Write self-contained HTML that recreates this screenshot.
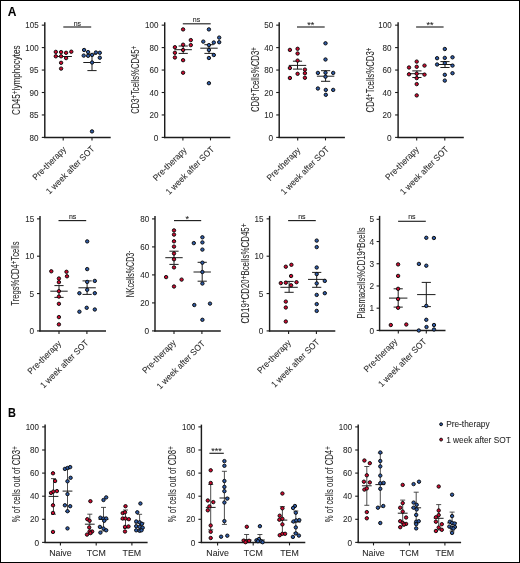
<!DOCTYPE html>
<html><head><meta charset="utf-8"><style>
html,body{margin:0;padding:0;background:#fff;}
svg{display:block;will-change:transform;font-family:"Liberation Sans", sans-serif;}
text{stroke:#2a2a2a;stroke-width:0.08px;}
</style></head><body>
<svg width="520" height="563" viewBox="0 0 520 563">
<rect x="0" y="0" width="520" height="563" fill="#fff"/>
<text x="7.70" y="15.80" font-size="12" text-anchor="start" fill="#000" font-weight="bold">A</text>
<line x1="44.80" y1="22.30" x2="44.80" y2="138.12" stroke="#1c1c1c" stroke-width="1.45" stroke-linecap="butt"/>
<line x1="44.07" y1="137.40" x2="110.70" y2="137.40" stroke="#1c1c1c" stroke-width="1.45" stroke-linecap="butt"/>
<line x1="41.80" y1="137.40" x2="44.80" y2="137.40" stroke="#1c1c1c" stroke-width="1.1" stroke-linecap="butt"/>
<text x="38.60" y="140.55" font-size="9.3" text-anchor="end" fill="#2a2a2a" textLength="9.00" lengthAdjust="spacingAndGlyphs">80</text>
<line x1="41.80" y1="114.95" x2="44.80" y2="114.95" stroke="#1c1c1c" stroke-width="1.1" stroke-linecap="butt"/>
<text x="38.60" y="118.10" font-size="9.3" text-anchor="end" fill="#2a2a2a" textLength="9.00" lengthAdjust="spacingAndGlyphs">85</text>
<line x1="41.80" y1="92.50" x2="44.80" y2="92.50" stroke="#1c1c1c" stroke-width="1.1" stroke-linecap="butt"/>
<text x="38.60" y="95.65" font-size="9.3" text-anchor="end" fill="#2a2a2a" textLength="9.00" lengthAdjust="spacingAndGlyphs">90</text>
<line x1="41.80" y1="70.05" x2="44.80" y2="70.05" stroke="#1c1c1c" stroke-width="1.1" stroke-linecap="butt"/>
<text x="38.60" y="73.20" font-size="9.3" text-anchor="end" fill="#2a2a2a" textLength="9.00" lengthAdjust="spacingAndGlyphs">95</text>
<line x1="41.80" y1="47.60" x2="44.80" y2="47.60" stroke="#1c1c1c" stroke-width="1.1" stroke-linecap="butt"/>
<text x="38.60" y="50.75" font-size="9.3" text-anchor="end" fill="#2a2a2a" textLength="13.30" lengthAdjust="spacingAndGlyphs">100</text>
<line x1="41.80" y1="25.15" x2="44.80" y2="25.15" stroke="#1c1c1c" stroke-width="1.1" stroke-linecap="butt"/>
<text x="38.60" y="28.30" font-size="9.3" text-anchor="end" fill="#2a2a2a" textLength="13.30" lengthAdjust="spacingAndGlyphs">105</text>
<line x1="63.20" y1="137.40" x2="63.20" y2="140.40" stroke="#1c1c1c" stroke-width="1.1" stroke-linecap="butt"/>
<line x1="92.00" y1="137.40" x2="92.00" y2="140.40" stroke="#1c1c1c" stroke-width="1.1" stroke-linecap="butt"/>
<line x1="63.30" y1="27.00" x2="91.20" y2="27.00" stroke="#222" stroke-width="1.15" stroke-linecap="butt"/>
<text x="77.40" y="25.60" font-size="7.0" text-anchor="middle" fill="#1a1a1a">ns</text>
<line x1="54.50" y1="56.50" x2="71.90" y2="56.50" stroke="#1c1c1c" stroke-width="1.0" stroke-linecap="butt"/>
<circle cx="55.80" cy="51.90" r="1.7" fill="#cc0a30" stroke="#0a0a0a" stroke-width="0.95"/>
<circle cx="61.10" cy="52.10" r="1.7" fill="#cc0a30" stroke="#0a0a0a" stroke-width="0.95"/>
<circle cx="66.10" cy="52.80" r="1.7" fill="#cc0a30" stroke="#0a0a0a" stroke-width="0.95"/>
<circle cx="71.30" cy="51.70" r="1.7" fill="#cc0a30" stroke="#0a0a0a" stroke-width="0.95"/>
<circle cx="55.80" cy="56.30" r="1.7" fill="#cc0a30" stroke="#0a0a0a" stroke-width="0.95"/>
<circle cx="61.10" cy="56.30" r="1.7" fill="#cc0a30" stroke="#0a0a0a" stroke-width="0.95"/>
<circle cx="66.10" cy="58.10" r="1.7" fill="#cc0a30" stroke="#0a0a0a" stroke-width="0.95"/>
<circle cx="61.10" cy="62.80" r="1.7" fill="#cc0a30" stroke="#0a0a0a" stroke-width="0.95"/>
<circle cx="61.10" cy="68.60" r="1.7" fill="#cc0a30" stroke="#0a0a0a" stroke-width="0.95"/>
<line x1="83.30" y1="62.50" x2="100.70" y2="62.50" stroke="#1c1c1c" stroke-width="1.0" stroke-linecap="butt"/>
<line x1="92.00" y1="54.20" x2="92.00" y2="70.60" stroke="#1c1c1c" stroke-width="1.0" stroke-linecap="butt"/>
<line x1="87.40" y1="54.20" x2="96.60" y2="54.20" stroke="#1c1c1c" stroke-width="1.0" stroke-linecap="butt"/>
<line x1="87.40" y1="70.60" x2="96.60" y2="70.60" stroke="#1c1c1c" stroke-width="1.0" stroke-linecap="butt"/>
<circle cx="84.10" cy="50.00" r="1.7" fill="#2f5ba6" stroke="#0a0a0a" stroke-width="0.95"/>
<circle cx="88.10" cy="52.10" r="1.7" fill="#2f5ba6" stroke="#0a0a0a" stroke-width="0.95"/>
<circle cx="95.90" cy="52.50" r="1.7" fill="#2f5ba6" stroke="#0a0a0a" stroke-width="0.95"/>
<circle cx="99.80" cy="52.80" r="1.7" fill="#2f5ba6" stroke="#0a0a0a" stroke-width="0.95"/>
<circle cx="83.70" cy="55.60" r="1.7" fill="#2f5ba6" stroke="#0a0a0a" stroke-width="0.95"/>
<circle cx="88.10" cy="55.80" r="1.7" fill="#2f5ba6" stroke="#0a0a0a" stroke-width="0.95"/>
<circle cx="92.10" cy="54.90" r="1.7" fill="#2f5ba6" stroke="#0a0a0a" stroke-width="0.95"/>
<circle cx="99.80" cy="57.70" r="1.7" fill="#2f5ba6" stroke="#0a0a0a" stroke-width="0.95"/>
<circle cx="92.10" cy="62.50" r="1.7" fill="#2f5ba6" stroke="#0a0a0a" stroke-width="0.95"/>
<circle cx="92.00" cy="131.40" r="1.7" fill="#2f5ba6" stroke="#0a0a0a" stroke-width="0.95"/>
<text x="19.90" y="80.15" font-size="10.2" text-anchor="middle" fill="#2a2a2a" textLength="69.50" lengthAdjust="spacingAndGlyphs" transform="rotate(-90 19.90 80.15)"><tspan dy="0">CD45</tspan><tspan font-size="80%" dy="-2.0">+</tspan><tspan dy="2.0">lymphocytes</tspan></text>
<text x="66.70" y="150.00" font-size="8.8" text-anchor="end" fill="#2a2a2a" textLength="43.50" lengthAdjust="spacingAndGlyphs" transform="rotate(-45 66.70 150.00)">Pre-therapy</text>
<text x="95.10" y="149.40" font-size="8.8" text-anchor="end" fill="#2a2a2a" textLength="64.30" lengthAdjust="spacingAndGlyphs" transform="rotate(-45 95.10 149.40)">1 week after SOT</text>
<line x1="164.70" y1="22.30" x2="164.70" y2="138.12" stroke="#1c1c1c" stroke-width="1.45" stroke-linecap="butt"/>
<line x1="163.97" y1="137.40" x2="230.30" y2="137.40" stroke="#1c1c1c" stroke-width="1.45" stroke-linecap="butt"/>
<line x1="161.70" y1="137.40" x2="164.70" y2="137.40" stroke="#1c1c1c" stroke-width="1.1" stroke-linecap="butt"/>
<text x="158.40" y="140.55" font-size="9.3" text-anchor="end" fill="#2a2a2a" textLength="4.60" lengthAdjust="spacingAndGlyphs">0</text>
<line x1="161.70" y1="114.95" x2="164.70" y2="114.95" stroke="#1c1c1c" stroke-width="1.1" stroke-linecap="butt"/>
<text x="158.40" y="118.10" font-size="9.3" text-anchor="end" fill="#2a2a2a" textLength="9.00" lengthAdjust="spacingAndGlyphs">20</text>
<line x1="161.70" y1="92.50" x2="164.70" y2="92.50" stroke="#1c1c1c" stroke-width="1.1" stroke-linecap="butt"/>
<text x="158.40" y="95.65" font-size="9.3" text-anchor="end" fill="#2a2a2a" textLength="9.00" lengthAdjust="spacingAndGlyphs">40</text>
<line x1="161.70" y1="70.05" x2="164.70" y2="70.05" stroke="#1c1c1c" stroke-width="1.1" stroke-linecap="butt"/>
<text x="158.40" y="73.20" font-size="9.3" text-anchor="end" fill="#2a2a2a" textLength="9.00" lengthAdjust="spacingAndGlyphs">60</text>
<line x1="161.70" y1="47.60" x2="164.70" y2="47.60" stroke="#1c1c1c" stroke-width="1.1" stroke-linecap="butt"/>
<text x="158.40" y="50.75" font-size="9.3" text-anchor="end" fill="#2a2a2a" textLength="9.00" lengthAdjust="spacingAndGlyphs">80</text>
<line x1="161.70" y1="25.15" x2="164.70" y2="25.15" stroke="#1c1c1c" stroke-width="1.1" stroke-linecap="butt"/>
<text x="158.40" y="28.30" font-size="9.3" text-anchor="end" fill="#2a2a2a" textLength="13.30" lengthAdjust="spacingAndGlyphs">100</text>
<line x1="182.90" y1="137.40" x2="182.90" y2="140.40" stroke="#1c1c1c" stroke-width="1.1" stroke-linecap="butt"/>
<line x1="210.50" y1="137.40" x2="210.50" y2="140.40" stroke="#1c1c1c" stroke-width="1.1" stroke-linecap="butt"/>
<line x1="182.80" y1="23.80" x2="210.70" y2="23.80" stroke="#222" stroke-width="1.15" stroke-linecap="butt"/>
<text x="196.50" y="22.30" font-size="7.0" text-anchor="middle" fill="#1a1a1a">ns</text>
<line x1="174.50" y1="49.70" x2="191.90" y2="49.70" stroke="#1c1c1c" stroke-width="1.0" stroke-linecap="butt"/>
<line x1="183.20" y1="46.00" x2="183.20" y2="53.40" stroke="#1c1c1c" stroke-width="1.0" stroke-linecap="butt"/>
<line x1="178.60" y1="46.00" x2="187.80" y2="46.00" stroke="#1c1c1c" stroke-width="1.0" stroke-linecap="butt"/>
<line x1="178.60" y1="53.40" x2="187.80" y2="53.40" stroke="#1c1c1c" stroke-width="1.0" stroke-linecap="butt"/>
<circle cx="183.10" cy="29.40" r="1.7" fill="#cc0a30" stroke="#0a0a0a" stroke-width="0.95"/>
<circle cx="190.80" cy="40.10" r="1.7" fill="#cc0a30" stroke="#0a0a0a" stroke-width="0.95"/>
<circle cx="183.10" cy="44.70" r="1.7" fill="#cc0a30" stroke="#0a0a0a" stroke-width="0.95"/>
<circle cx="190.80" cy="45.10" r="1.7" fill="#cc0a30" stroke="#0a0a0a" stroke-width="0.95"/>
<circle cx="174.90" cy="47.20" r="1.7" fill="#cc0a30" stroke="#0a0a0a" stroke-width="0.95"/>
<circle cx="183.10" cy="50.00" r="1.7" fill="#cc0a30" stroke="#0a0a0a" stroke-width="0.95"/>
<circle cx="174.90" cy="52.80" r="1.7" fill="#cc0a30" stroke="#0a0a0a" stroke-width="0.95"/>
<circle cx="174.90" cy="57.50" r="1.7" fill="#cc0a30" stroke="#0a0a0a" stroke-width="0.95"/>
<circle cx="183.10" cy="60.20" r="1.7" fill="#cc0a30" stroke="#0a0a0a" stroke-width="0.95"/>
<circle cx="183.10" cy="72.70" r="1.7" fill="#cc0a30" stroke="#0a0a0a" stroke-width="0.95"/>
<line x1="200.30" y1="48.20" x2="217.70" y2="48.20" stroke="#1c1c1c" stroke-width="1.0" stroke-linecap="butt"/>
<line x1="209.00" y1="44.70" x2="209.00" y2="53.40" stroke="#1c1c1c" stroke-width="1.0" stroke-linecap="butt"/>
<line x1="204.40" y1="44.70" x2="213.60" y2="44.70" stroke="#1c1c1c" stroke-width="1.0" stroke-linecap="butt"/>
<line x1="204.40" y1="53.40" x2="213.60" y2="53.40" stroke="#1c1c1c" stroke-width="1.0" stroke-linecap="butt"/>
<circle cx="208.90" cy="29.40" r="1.7" fill="#2f5ba6" stroke="#0a0a0a" stroke-width="0.95"/>
<circle cx="219.20" cy="37.60" r="1.7" fill="#2f5ba6" stroke="#0a0a0a" stroke-width="0.95"/>
<circle cx="203.30" cy="41.60" r="1.7" fill="#2f5ba6" stroke="#0a0a0a" stroke-width="0.95"/>
<circle cx="213.80" cy="42.50" r="1.7" fill="#2f5ba6" stroke="#0a0a0a" stroke-width="0.95"/>
<circle cx="219.20" cy="42.20" r="1.7" fill="#2f5ba6" stroke="#0a0a0a" stroke-width="0.95"/>
<circle cx="208.90" cy="45.10" r="1.7" fill="#2f5ba6" stroke="#0a0a0a" stroke-width="0.95"/>
<circle cx="208.90" cy="50.00" r="1.7" fill="#2f5ba6" stroke="#0a0a0a" stroke-width="0.95"/>
<circle cx="213.80" cy="55.00" r="1.7" fill="#2f5ba6" stroke="#0a0a0a" stroke-width="0.95"/>
<circle cx="208.90" cy="58.00" r="1.7" fill="#2f5ba6" stroke="#0a0a0a" stroke-width="0.95"/>
<circle cx="208.90" cy="83.20" r="1.7" fill="#2f5ba6" stroke="#0a0a0a" stroke-width="0.95"/>
<text x="139.00" y="79.90" font-size="10.2" text-anchor="middle" fill="#2a2a2a" textLength="67.80" lengthAdjust="spacingAndGlyphs" transform="rotate(-90 139.00 79.90)"><tspan dy="0">CD3</tspan><tspan font-size="80%" dy="-2.0">+</tspan><tspan dy="2.0">Tcells%CD45</tspan><tspan font-size="80%" dy="-2.0">+</tspan></text>
<text x="187.20" y="150.70" font-size="8.8" text-anchor="end" fill="#2a2a2a" textLength="43.50" lengthAdjust="spacingAndGlyphs" transform="rotate(-45 187.20 150.70)">Pre-therapy</text>
<text x="214.80" y="149.90" font-size="8.8" text-anchor="end" fill="#2a2a2a" textLength="64.30" lengthAdjust="spacingAndGlyphs" transform="rotate(-45 214.80 149.90)">1 week after SOT</text>
<line x1="279.20" y1="22.30" x2="279.20" y2="138.12" stroke="#1c1c1c" stroke-width="1.45" stroke-linecap="butt"/>
<line x1="278.47" y1="137.40" x2="344.90" y2="137.40" stroke="#1c1c1c" stroke-width="1.45" stroke-linecap="butt"/>
<line x1="276.20" y1="137.40" x2="279.20" y2="137.40" stroke="#1c1c1c" stroke-width="1.1" stroke-linecap="butt"/>
<text x="273.20" y="140.55" font-size="9.3" text-anchor="end" fill="#2a2a2a" textLength="4.60" lengthAdjust="spacingAndGlyphs">0</text>
<line x1="276.20" y1="114.95" x2="279.20" y2="114.95" stroke="#1c1c1c" stroke-width="1.1" stroke-linecap="butt"/>
<text x="273.20" y="118.10" font-size="9.3" text-anchor="end" fill="#2a2a2a" textLength="9.00" lengthAdjust="spacingAndGlyphs">10</text>
<line x1="276.20" y1="92.50" x2="279.20" y2="92.50" stroke="#1c1c1c" stroke-width="1.1" stroke-linecap="butt"/>
<text x="273.20" y="95.65" font-size="9.3" text-anchor="end" fill="#2a2a2a" textLength="9.00" lengthAdjust="spacingAndGlyphs">20</text>
<line x1="276.20" y1="70.05" x2="279.20" y2="70.05" stroke="#1c1c1c" stroke-width="1.1" stroke-linecap="butt"/>
<text x="273.20" y="73.20" font-size="9.3" text-anchor="end" fill="#2a2a2a" textLength="9.00" lengthAdjust="spacingAndGlyphs">80</text>
<line x1="276.20" y1="47.60" x2="279.20" y2="47.60" stroke="#1c1c1c" stroke-width="1.1" stroke-linecap="butt"/>
<text x="273.20" y="50.75" font-size="9.3" text-anchor="end" fill="#2a2a2a" textLength="9.00" lengthAdjust="spacingAndGlyphs">40</text>
<line x1="276.20" y1="25.15" x2="279.20" y2="25.15" stroke="#1c1c1c" stroke-width="1.1" stroke-linecap="butt"/>
<text x="273.20" y="28.30" font-size="9.3" text-anchor="end" fill="#2a2a2a" textLength="9.00" lengthAdjust="spacingAndGlyphs">50</text>
<line x1="297.70" y1="137.40" x2="297.70" y2="140.40" stroke="#1c1c1c" stroke-width="1.1" stroke-linecap="butt"/>
<line x1="325.50" y1="137.40" x2="325.50" y2="140.40" stroke="#1c1c1c" stroke-width="1.1" stroke-linecap="butt"/>
<line x1="297.00" y1="27.00" x2="324.70" y2="27.00" stroke="#222" stroke-width="1.15" stroke-linecap="butt"/>
<text x="310.80" y="28.42" font-size="9.0" text-anchor="middle" fill="#1a1a1a">**</text>
<line x1="288.80" y1="65.40" x2="306.20" y2="65.40" stroke="#1c1c1c" stroke-width="1.0" stroke-linecap="butt"/>
<line x1="297.50" y1="61.20" x2="297.50" y2="69.10" stroke="#1c1c1c" stroke-width="1.0" stroke-linecap="butt"/>
<line x1="292.90" y1="61.20" x2="302.10" y2="61.20" stroke="#1c1c1c" stroke-width="1.0" stroke-linecap="butt"/>
<line x1="292.90" y1="69.10" x2="302.10" y2="69.10" stroke="#1c1c1c" stroke-width="1.0" stroke-linecap="butt"/>
<circle cx="289.90" cy="49.90" r="1.7" fill="#cc0a30" stroke="#0a0a0a" stroke-width="0.95"/>
<circle cx="297.60" cy="48.80" r="1.7" fill="#cc0a30" stroke="#0a0a0a" stroke-width="0.95"/>
<circle cx="297.60" cy="53.50" r="1.7" fill="#cc0a30" stroke="#0a0a0a" stroke-width="0.95"/>
<circle cx="297.60" cy="60.60" r="1.7" fill="#cc0a30" stroke="#0a0a0a" stroke-width="0.95"/>
<circle cx="289.90" cy="68.00" r="1.7" fill="#cc0a30" stroke="#0a0a0a" stroke-width="0.95"/>
<circle cx="304.90" cy="69.60" r="1.7" fill="#cc0a30" stroke="#0a0a0a" stroke-width="0.95"/>
<circle cx="304.90" cy="73.20" r="1.7" fill="#cc0a30" stroke="#0a0a0a" stroke-width="0.95"/>
<circle cx="297.60" cy="73.80" r="1.7" fill="#cc0a30" stroke="#0a0a0a" stroke-width="0.95"/>
<circle cx="289.90" cy="78.00" r="1.7" fill="#cc0a30" stroke="#0a0a0a" stroke-width="0.95"/>
<circle cx="304.90" cy="77.80" r="1.7" fill="#cc0a30" stroke="#0a0a0a" stroke-width="0.95"/>
<line x1="316.90" y1="76.20" x2="334.30" y2="76.20" stroke="#1c1c1c" stroke-width="1.0" stroke-linecap="butt"/>
<line x1="325.60" y1="70.70" x2="325.60" y2="81.30" stroke="#1c1c1c" stroke-width="1.0" stroke-linecap="butt"/>
<line x1="321.00" y1="70.70" x2="330.20" y2="70.70" stroke="#1c1c1c" stroke-width="1.0" stroke-linecap="butt"/>
<line x1="321.00" y1="81.30" x2="330.20" y2="81.30" stroke="#1c1c1c" stroke-width="1.0" stroke-linecap="butt"/>
<circle cx="325.50" cy="43.30" r="1.7" fill="#2f5ba6" stroke="#0a0a0a" stroke-width="0.95"/>
<circle cx="325.50" cy="59.50" r="1.7" fill="#2f5ba6" stroke="#0a0a0a" stroke-width="0.95"/>
<circle cx="317.90" cy="72.90" r="1.7" fill="#2f5ba6" stroke="#0a0a0a" stroke-width="0.95"/>
<circle cx="325.50" cy="72.70" r="1.7" fill="#2f5ba6" stroke="#0a0a0a" stroke-width="0.95"/>
<circle cx="333.20" cy="72.90" r="1.7" fill="#2f5ba6" stroke="#0a0a0a" stroke-width="0.95"/>
<circle cx="325.50" cy="76.70" r="1.7" fill="#2f5ba6" stroke="#0a0a0a" stroke-width="0.95"/>
<circle cx="317.90" cy="88.50" r="1.7" fill="#2f5ba6" stroke="#0a0a0a" stroke-width="0.95"/>
<circle cx="325.80" cy="89.90" r="1.7" fill="#2f5ba6" stroke="#0a0a0a" stroke-width="0.95"/>
<circle cx="333.20" cy="89.90" r="1.7" fill="#2f5ba6" stroke="#0a0a0a" stroke-width="0.95"/>
<circle cx="325.80" cy="94.80" r="1.7" fill="#2f5ba6" stroke="#0a0a0a" stroke-width="0.95"/>
<text x="258.90" y="79.60" font-size="10.2" text-anchor="middle" fill="#2a2a2a" textLength="65.00" lengthAdjust="spacingAndGlyphs" transform="rotate(-90 258.90 79.60)"><tspan dy="0">CD8</tspan><tspan font-size="80%" dy="-2.0">+</tspan><tspan dy="2.0">Tcells%CD3</tspan><tspan font-size="80%" dy="-2.0">+</tspan></text>
<text x="300.90" y="150.70" font-size="8.8" text-anchor="end" fill="#2a2a2a" textLength="43.50" lengthAdjust="spacingAndGlyphs" transform="rotate(-45 300.90 150.70)">Pre-therapy</text>
<text x="329.80" y="149.90" font-size="8.8" text-anchor="end" fill="#2a2a2a" textLength="64.30" lengthAdjust="spacingAndGlyphs" transform="rotate(-45 329.80 149.90)">1 week after SOT</text>
<line x1="398.10" y1="22.30" x2="398.10" y2="138.12" stroke="#1c1c1c" stroke-width="1.45" stroke-linecap="butt"/>
<line x1="397.38" y1="137.40" x2="463.80" y2="137.40" stroke="#1c1c1c" stroke-width="1.45" stroke-linecap="butt"/>
<line x1="395.10" y1="137.40" x2="398.10" y2="137.40" stroke="#1c1c1c" stroke-width="1.1" stroke-linecap="butt"/>
<text x="391.60" y="140.55" font-size="9.3" text-anchor="end" fill="#2a2a2a" textLength="4.60" lengthAdjust="spacingAndGlyphs">0</text>
<line x1="395.10" y1="114.95" x2="398.10" y2="114.95" stroke="#1c1c1c" stroke-width="1.1" stroke-linecap="butt"/>
<text x="391.60" y="118.10" font-size="9.3" text-anchor="end" fill="#2a2a2a" textLength="9.00" lengthAdjust="spacingAndGlyphs">20</text>
<line x1="395.10" y1="92.50" x2="398.10" y2="92.50" stroke="#1c1c1c" stroke-width="1.1" stroke-linecap="butt"/>
<text x="391.60" y="95.65" font-size="9.3" text-anchor="end" fill="#2a2a2a" textLength="9.00" lengthAdjust="spacingAndGlyphs">40</text>
<line x1="395.10" y1="70.05" x2="398.10" y2="70.05" stroke="#1c1c1c" stroke-width="1.1" stroke-linecap="butt"/>
<text x="391.60" y="73.20" font-size="9.3" text-anchor="end" fill="#2a2a2a" textLength="9.00" lengthAdjust="spacingAndGlyphs">60</text>
<line x1="395.10" y1="47.60" x2="398.10" y2="47.60" stroke="#1c1c1c" stroke-width="1.1" stroke-linecap="butt"/>
<text x="391.60" y="50.75" font-size="9.3" text-anchor="end" fill="#2a2a2a" textLength="9.00" lengthAdjust="spacingAndGlyphs">80</text>
<line x1="395.10" y1="25.15" x2="398.10" y2="25.15" stroke="#1c1c1c" stroke-width="1.1" stroke-linecap="butt"/>
<text x="391.60" y="28.30" font-size="9.3" text-anchor="end" fill="#2a2a2a" textLength="13.30" lengthAdjust="spacingAndGlyphs">100</text>
<line x1="416.70" y1="137.40" x2="416.70" y2="140.40" stroke="#1c1c1c" stroke-width="1.1" stroke-linecap="butt"/>
<line x1="444.80" y1="137.40" x2="444.80" y2="140.40" stroke="#1c1c1c" stroke-width="1.1" stroke-linecap="butt"/>
<line x1="416.10" y1="27.00" x2="443.60" y2="27.00" stroke="#222" stroke-width="1.15" stroke-linecap="butt"/>
<text x="429.90" y="28.42" font-size="9.0" text-anchor="middle" fill="#1a1a1a">**</text>
<line x1="408.20" y1="73.70" x2="425.60" y2="73.70" stroke="#1c1c1c" stroke-width="1.0" stroke-linecap="butt"/>
<line x1="416.90" y1="70.90" x2="416.90" y2="77.50" stroke="#1c1c1c" stroke-width="1.0" stroke-linecap="butt"/>
<line x1="412.30" y1="70.90" x2="421.50" y2="70.90" stroke="#1c1c1c" stroke-width="1.0" stroke-linecap="butt"/>
<line x1="412.30" y1="77.50" x2="421.50" y2="77.50" stroke="#1c1c1c" stroke-width="1.0" stroke-linecap="butt"/>
<circle cx="416.70" cy="61.60" r="1.7" fill="#cc0a30" stroke="#0a0a0a" stroke-width="0.95"/>
<circle cx="409.00" cy="67.50" r="1.7" fill="#cc0a30" stroke="#0a0a0a" stroke-width="0.95"/>
<circle cx="416.70" cy="66.80" r="1.7" fill="#cc0a30" stroke="#0a0a0a" stroke-width="0.95"/>
<circle cx="424.50" cy="65.60" r="1.7" fill="#cc0a30" stroke="#0a0a0a" stroke-width="0.95"/>
<circle cx="409.00" cy="74.30" r="1.7" fill="#cc0a30" stroke="#0a0a0a" stroke-width="0.95"/>
<circle cx="416.70" cy="73.70" r="1.7" fill="#cc0a30" stroke="#0a0a0a" stroke-width="0.95"/>
<circle cx="424.50" cy="74.60" r="1.7" fill="#cc0a30" stroke="#0a0a0a" stroke-width="0.95"/>
<circle cx="416.70" cy="78.10" r="1.7" fill="#cc0a30" stroke="#0a0a0a" stroke-width="0.95"/>
<circle cx="416.70" cy="84.10" r="1.7" fill="#cc0a30" stroke="#0a0a0a" stroke-width="0.95"/>
<circle cx="416.70" cy="95.40" r="1.7" fill="#cc0a30" stroke="#0a0a0a" stroke-width="0.95"/>
<line x1="436.30" y1="64.50" x2="453.70" y2="64.50" stroke="#1c1c1c" stroke-width="1.0" stroke-linecap="butt"/>
<line x1="445.00" y1="61.60" x2="445.00" y2="67.50" stroke="#1c1c1c" stroke-width="1.0" stroke-linecap="butt"/>
<line x1="440.40" y1="61.60" x2="449.60" y2="61.60" stroke="#1c1c1c" stroke-width="1.0" stroke-linecap="butt"/>
<line x1="440.40" y1="67.50" x2="449.60" y2="67.50" stroke="#1c1c1c" stroke-width="1.0" stroke-linecap="butt"/>
<circle cx="444.80" cy="49.00" r="1.7" fill="#2f5ba6" stroke="#0a0a0a" stroke-width="0.95"/>
<circle cx="437.10" cy="58.20" r="1.7" fill="#2f5ba6" stroke="#0a0a0a" stroke-width="0.95"/>
<circle cx="444.80" cy="57.90" r="1.7" fill="#2f5ba6" stroke="#0a0a0a" stroke-width="0.95"/>
<circle cx="452.50" cy="57.30" r="1.7" fill="#2f5ba6" stroke="#0a0a0a" stroke-width="0.95"/>
<circle cx="437.10" cy="64.50" r="1.7" fill="#2f5ba6" stroke="#0a0a0a" stroke-width="0.95"/>
<circle cx="444.80" cy="63.10" r="1.7" fill="#2f5ba6" stroke="#0a0a0a" stroke-width="0.95"/>
<circle cx="452.50" cy="65.60" r="1.7" fill="#2f5ba6" stroke="#0a0a0a" stroke-width="0.95"/>
<circle cx="452.50" cy="73.20" r="1.7" fill="#2f5ba6" stroke="#0a0a0a" stroke-width="0.95"/>
<circle cx="444.80" cy="74.80" r="1.7" fill="#2f5ba6" stroke="#0a0a0a" stroke-width="0.95"/>
<circle cx="444.80" cy="80.60" r="1.7" fill="#2f5ba6" stroke="#0a0a0a" stroke-width="0.95"/>
<text x="373.60" y="80.00" font-size="10.2" text-anchor="middle" fill="#2a2a2a" textLength="65.00" lengthAdjust="spacingAndGlyphs" transform="rotate(-90 373.60 80.00)"><tspan dy="0">CD4</tspan><tspan font-size="80%" dy="-2.0">+</tspan><tspan dy="2.0">Tcells%CD3</tspan><tspan font-size="80%" dy="-2.0">+</tspan></text>
<text x="419.50" y="150.00" font-size="8.8" text-anchor="end" fill="#2a2a2a" textLength="43.50" lengthAdjust="spacingAndGlyphs" transform="rotate(-45 419.50 150.00)">Pre-therapy</text>
<text x="449.10" y="149.90" font-size="8.8" text-anchor="end" fill="#2a2a2a" textLength="64.30" lengthAdjust="spacingAndGlyphs" transform="rotate(-45 449.10 149.90)">1 week after SOT</text>
<line x1="40.00" y1="215.90" x2="40.00" y2="331.62" stroke="#1c1c1c" stroke-width="1.45" stroke-linecap="butt"/>
<line x1="39.27" y1="330.90" x2="106.00" y2="330.90" stroke="#1c1c1c" stroke-width="1.45" stroke-linecap="butt"/>
<line x1="37.00" y1="330.90" x2="40.00" y2="330.90" stroke="#1c1c1c" stroke-width="1.1" stroke-linecap="butt"/>
<text x="34.20" y="334.05" font-size="9.3" text-anchor="end" fill="#2a2a2a" textLength="4.60" lengthAdjust="spacingAndGlyphs">0</text>
<line x1="37.00" y1="293.55" x2="40.00" y2="293.55" stroke="#1c1c1c" stroke-width="1.1" stroke-linecap="butt"/>
<text x="34.20" y="296.70" font-size="9.3" text-anchor="end" fill="#2a2a2a" textLength="4.60" lengthAdjust="spacingAndGlyphs">5</text>
<line x1="37.00" y1="256.20" x2="40.00" y2="256.20" stroke="#1c1c1c" stroke-width="1.1" stroke-linecap="butt"/>
<text x="34.20" y="259.35" font-size="9.3" text-anchor="end" fill="#2a2a2a" textLength="9.00" lengthAdjust="spacingAndGlyphs">10</text>
<line x1="37.00" y1="218.85" x2="40.00" y2="218.85" stroke="#1c1c1c" stroke-width="1.1" stroke-linecap="butt"/>
<text x="34.20" y="222.00" font-size="9.3" text-anchor="end" fill="#2a2a2a" textLength="9.00" lengthAdjust="spacingAndGlyphs">15</text>
<line x1="59.00" y1="330.90" x2="59.00" y2="333.90" stroke="#1c1c1c" stroke-width="1.1" stroke-linecap="butt"/>
<line x1="86.90" y1="330.90" x2="86.90" y2="333.90" stroke="#1c1c1c" stroke-width="1.1" stroke-linecap="butt"/>
<line x1="58.50" y1="220.60" x2="86.20" y2="220.60" stroke="#222" stroke-width="1.15" stroke-linecap="butt"/>
<text x="72.60" y="218.80" font-size="7.0" text-anchor="middle" fill="#1a1a1a">ns</text>
<line x1="50.30" y1="291.20" x2="67.70" y2="291.20" stroke="#1c1c1c" stroke-width="1.0" stroke-linecap="butt"/>
<line x1="59.00" y1="285.60" x2="59.00" y2="297.40" stroke="#1c1c1c" stroke-width="1.0" stroke-linecap="butt"/>
<line x1="54.40" y1="285.60" x2="63.60" y2="285.60" stroke="#1c1c1c" stroke-width="1.0" stroke-linecap="butt"/>
<line x1="54.40" y1="297.40" x2="63.60" y2="297.40" stroke="#1c1c1c" stroke-width="1.0" stroke-linecap="butt"/>
<circle cx="51.30" cy="271.30" r="1.7" fill="#cc0a30" stroke="#0a0a0a" stroke-width="0.95"/>
<circle cx="66.50" cy="271.80" r="1.7" fill="#cc0a30" stroke="#0a0a0a" stroke-width="0.95"/>
<circle cx="67.00" cy="276.30" r="1.7" fill="#cc0a30" stroke="#0a0a0a" stroke-width="0.95"/>
<circle cx="58.90" cy="278.50" r="1.7" fill="#cc0a30" stroke="#0a0a0a" stroke-width="0.95"/>
<circle cx="58.90" cy="282.20" r="1.7" fill="#cc0a30" stroke="#0a0a0a" stroke-width="0.95"/>
<circle cx="58.90" cy="291.20" r="1.7" fill="#cc0a30" stroke="#0a0a0a" stroke-width="0.95"/>
<circle cx="58.90" cy="296.60" r="1.7" fill="#cc0a30" stroke="#0a0a0a" stroke-width="0.95"/>
<circle cx="58.90" cy="303.80" r="1.7" fill="#cc0a30" stroke="#0a0a0a" stroke-width="0.95"/>
<circle cx="58.90" cy="317.10" r="1.7" fill="#cc0a30" stroke="#0a0a0a" stroke-width="0.95"/>
<circle cx="58.90" cy="324.40" r="1.7" fill="#cc0a30" stroke="#0a0a0a" stroke-width="0.95"/>
<line x1="78.40" y1="287.80" x2="95.80" y2="287.80" stroke="#1c1c1c" stroke-width="1.0" stroke-linecap="butt"/>
<line x1="87.10" y1="280.90" x2="87.10" y2="294.40" stroke="#1c1c1c" stroke-width="1.0" stroke-linecap="butt"/>
<line x1="82.50" y1="280.90" x2="91.70" y2="280.90" stroke="#1c1c1c" stroke-width="1.0" stroke-linecap="butt"/>
<line x1="82.50" y1="294.40" x2="91.70" y2="294.40" stroke="#1c1c1c" stroke-width="1.0" stroke-linecap="butt"/>
<circle cx="87.20" cy="241.40" r="1.7" fill="#2f5ba6" stroke="#0a0a0a" stroke-width="0.95"/>
<circle cx="87.20" cy="269.10" r="1.7" fill="#2f5ba6" stroke="#0a0a0a" stroke-width="0.95"/>
<circle cx="87.20" cy="281.90" r="1.7" fill="#2f5ba6" stroke="#0a0a0a" stroke-width="0.95"/>
<circle cx="94.80" cy="280.90" r="1.7" fill="#2f5ba6" stroke="#0a0a0a" stroke-width="0.95"/>
<circle cx="87.20" cy="289.80" r="1.7" fill="#2f5ba6" stroke="#0a0a0a" stroke-width="0.95"/>
<circle cx="79.40" cy="293.20" r="1.7" fill="#2f5ba6" stroke="#0a0a0a" stroke-width="0.95"/>
<circle cx="94.80" cy="293.20" r="1.7" fill="#2f5ba6" stroke="#0a0a0a" stroke-width="0.95"/>
<circle cx="79.40" cy="311.70" r="1.7" fill="#2f5ba6" stroke="#0a0a0a" stroke-width="0.95"/>
<circle cx="86.70" cy="307.80" r="1.7" fill="#2f5ba6" stroke="#0a0a0a" stroke-width="0.95"/>
<circle cx="94.80" cy="309.50" r="1.7" fill="#2f5ba6" stroke="#0a0a0a" stroke-width="0.95"/>
<text x="19.50" y="273.60" font-size="10.2" text-anchor="middle" fill="#2a2a2a" textLength="64.20" lengthAdjust="spacingAndGlyphs" transform="rotate(-90 19.50 273.60)"><tspan dy="0">Tregs%CD4</tspan><tspan font-size="80%" dy="-2.0">+</tspan><tspan dy="2.0">Tcells</tspan></text>
<text x="61.80" y="344.00" font-size="8.8" text-anchor="end" fill="#2a2a2a" textLength="43.50" lengthAdjust="spacingAndGlyphs" transform="rotate(-45 61.80 344.00)">Pre-therapy</text>
<text x="89.20" y="343.40" font-size="8.8" text-anchor="end" fill="#2a2a2a" textLength="64.30" lengthAdjust="spacingAndGlyphs" transform="rotate(-45 89.20 343.40)">1 week after SOT</text>
<line x1="155.00" y1="215.90" x2="155.00" y2="331.62" stroke="#1c1c1c" stroke-width="1.45" stroke-linecap="butt"/>
<line x1="154.28" y1="330.90" x2="220.80" y2="330.90" stroke="#1c1c1c" stroke-width="1.45" stroke-linecap="butt"/>
<line x1="152.00" y1="330.90" x2="155.00" y2="330.90" stroke="#1c1c1c" stroke-width="1.1" stroke-linecap="butt"/>
<text x="149.20" y="334.05" font-size="9.3" text-anchor="end" fill="#2a2a2a" textLength="4.60" lengthAdjust="spacingAndGlyphs">0</text>
<line x1="152.00" y1="302.90" x2="155.00" y2="302.90" stroke="#1c1c1c" stroke-width="1.1" stroke-linecap="butt"/>
<text x="149.20" y="306.05" font-size="9.3" text-anchor="end" fill="#2a2a2a" textLength="9.00" lengthAdjust="spacingAndGlyphs">20</text>
<line x1="152.00" y1="274.90" x2="155.00" y2="274.90" stroke="#1c1c1c" stroke-width="1.1" stroke-linecap="butt"/>
<text x="149.20" y="278.05" font-size="9.3" text-anchor="end" fill="#2a2a2a" textLength="9.00" lengthAdjust="spacingAndGlyphs">40</text>
<line x1="152.00" y1="246.90" x2="155.00" y2="246.90" stroke="#1c1c1c" stroke-width="1.1" stroke-linecap="butt"/>
<text x="149.20" y="250.05" font-size="9.3" text-anchor="end" fill="#2a2a2a" textLength="9.00" lengthAdjust="spacingAndGlyphs">60</text>
<line x1="152.00" y1="218.90" x2="155.00" y2="218.90" stroke="#1c1c1c" stroke-width="1.1" stroke-linecap="butt"/>
<text x="149.20" y="222.05" font-size="9.3" text-anchor="end" fill="#2a2a2a" textLength="9.00" lengthAdjust="spacingAndGlyphs">80</text>
<line x1="174.00" y1="330.90" x2="174.00" y2="333.90" stroke="#1c1c1c" stroke-width="1.1" stroke-linecap="butt"/>
<line x1="201.90" y1="330.90" x2="201.90" y2="333.90" stroke="#1c1c1c" stroke-width="1.1" stroke-linecap="butt"/>
<line x1="174.00" y1="220.60" x2="201.20" y2="220.60" stroke="#222" stroke-width="1.15" stroke-linecap="butt"/>
<text x="187.30" y="221.82" font-size="9.0" text-anchor="middle" fill="#1a1a1a">*</text>
<line x1="165.30" y1="257.70" x2="182.70" y2="257.70" stroke="#1c1c1c" stroke-width="1.0" stroke-linecap="butt"/>
<line x1="174.00" y1="251.20" x2="174.00" y2="264.40" stroke="#1c1c1c" stroke-width="1.0" stroke-linecap="butt"/>
<line x1="169.40" y1="251.20" x2="178.60" y2="251.20" stroke="#1c1c1c" stroke-width="1.0" stroke-linecap="butt"/>
<line x1="169.40" y1="264.40" x2="178.60" y2="264.40" stroke="#1c1c1c" stroke-width="1.0" stroke-linecap="butt"/>
<circle cx="174.00" cy="230.40" r="1.7" fill="#cc0a30" stroke="#0a0a0a" stroke-width="0.95"/>
<circle cx="174.00" cy="234.60" r="1.7" fill="#cc0a30" stroke="#0a0a0a" stroke-width="0.95"/>
<circle cx="174.00" cy="241.30" r="1.7" fill="#cc0a30" stroke="#0a0a0a" stroke-width="0.95"/>
<circle cx="174.00" cy="246.60" r="1.7" fill="#cc0a30" stroke="#0a0a0a" stroke-width="0.95"/>
<circle cx="174.00" cy="253.50" r="1.7" fill="#cc0a30" stroke="#0a0a0a" stroke-width="0.95"/>
<circle cx="174.00" cy="259.30" r="1.7" fill="#cc0a30" stroke="#0a0a0a" stroke-width="0.95"/>
<circle cx="174.00" cy="267.40" r="1.7" fill="#cc0a30" stroke="#0a0a0a" stroke-width="0.95"/>
<circle cx="166.10" cy="277.10" r="1.7" fill="#cc0a30" stroke="#0a0a0a" stroke-width="0.95"/>
<circle cx="181.60" cy="279.60" r="1.7" fill="#cc0a30" stroke="#0a0a0a" stroke-width="0.95"/>
<circle cx="174.00" cy="286.50" r="1.7" fill="#cc0a30" stroke="#0a0a0a" stroke-width="0.95"/>
<line x1="193.50" y1="272.00" x2="210.90" y2="272.00" stroke="#1c1c1c" stroke-width="1.0" stroke-linecap="butt"/>
<line x1="202.20" y1="262.30" x2="202.20" y2="281.20" stroke="#1c1c1c" stroke-width="1.0" stroke-linecap="butt"/>
<line x1="197.60" y1="262.30" x2="206.80" y2="262.30" stroke="#1c1c1c" stroke-width="1.0" stroke-linecap="butt"/>
<line x1="197.60" y1="281.20" x2="206.80" y2="281.20" stroke="#1c1c1c" stroke-width="1.0" stroke-linecap="butt"/>
<circle cx="202.40" cy="237.30" r="1.7" fill="#2f5ba6" stroke="#0a0a0a" stroke-width="0.95"/>
<circle cx="193.80" cy="243.10" r="1.7" fill="#2f5ba6" stroke="#0a0a0a" stroke-width="0.95"/>
<circle cx="202.40" cy="242.40" r="1.7" fill="#2f5ba6" stroke="#0a0a0a" stroke-width="0.95"/>
<circle cx="202.40" cy="249.60" r="1.7" fill="#2f5ba6" stroke="#0a0a0a" stroke-width="0.95"/>
<circle cx="202.40" cy="262.70" r="1.7" fill="#2f5ba6" stroke="#0a0a0a" stroke-width="0.95"/>
<circle cx="202.40" cy="272.00" r="1.7" fill="#2f5ba6" stroke="#0a0a0a" stroke-width="0.95"/>
<circle cx="202.40" cy="283.50" r="1.7" fill="#2f5ba6" stroke="#0a0a0a" stroke-width="0.95"/>
<circle cx="194.30" cy="305.00" r="1.7" fill="#2f5ba6" stroke="#0a0a0a" stroke-width="0.95"/>
<circle cx="210.00" cy="303.60" r="1.7" fill="#2f5ba6" stroke="#0a0a0a" stroke-width="0.95"/>
<circle cx="202.40" cy="319.80" r="1.7" fill="#2f5ba6" stroke="#0a0a0a" stroke-width="0.95"/>
<text x="134.00" y="274.10" font-size="10.2" text-anchor="middle" fill="#2a2a2a" textLength="46.40" lengthAdjust="spacingAndGlyphs" transform="rotate(-90 134.00 274.10)"><tspan dy="0">NKcells%CD3</tspan><tspan font-size="80%" dy="-2.0">-</tspan></text>
<text x="176.40" y="343.30" font-size="8.8" text-anchor="end" fill="#2a2a2a" textLength="43.50" lengthAdjust="spacingAndGlyphs" transform="rotate(-45 176.40 343.30)">Pre-therapy</text>
<text x="205.70" y="344.20" font-size="8.8" text-anchor="end" fill="#2a2a2a" textLength="64.30" lengthAdjust="spacingAndGlyphs" transform="rotate(-45 205.70 344.20)">1 week after SOT</text>
<line x1="269.60" y1="215.90" x2="269.60" y2="331.62" stroke="#1c1c1c" stroke-width="1.45" stroke-linecap="butt"/>
<line x1="268.88" y1="330.90" x2="335.30" y2="330.90" stroke="#1c1c1c" stroke-width="1.45" stroke-linecap="butt"/>
<line x1="266.60" y1="330.90" x2="269.60" y2="330.90" stroke="#1c1c1c" stroke-width="1.1" stroke-linecap="butt"/>
<text x="263.40" y="334.05" font-size="9.3" text-anchor="end" fill="#2a2a2a" textLength="4.60" lengthAdjust="spacingAndGlyphs">0</text>
<line x1="266.60" y1="293.55" x2="269.60" y2="293.55" stroke="#1c1c1c" stroke-width="1.1" stroke-linecap="butt"/>
<text x="263.40" y="296.70" font-size="9.3" text-anchor="end" fill="#2a2a2a" textLength="4.60" lengthAdjust="spacingAndGlyphs">5</text>
<line x1="266.60" y1="256.20" x2="269.60" y2="256.20" stroke="#1c1c1c" stroke-width="1.1" stroke-linecap="butt"/>
<text x="263.40" y="259.35" font-size="9.3" text-anchor="end" fill="#2a2a2a" textLength="9.00" lengthAdjust="spacingAndGlyphs">10</text>
<line x1="266.60" y1="218.85" x2="269.60" y2="218.85" stroke="#1c1c1c" stroke-width="1.1" stroke-linecap="butt"/>
<text x="263.40" y="222.00" font-size="9.3" text-anchor="end" fill="#2a2a2a" textLength="9.00" lengthAdjust="spacingAndGlyphs">15</text>
<line x1="288.60" y1="330.90" x2="288.60" y2="333.90" stroke="#1c1c1c" stroke-width="1.1" stroke-linecap="butt"/>
<line x1="316.40" y1="330.90" x2="316.40" y2="333.90" stroke="#1c1c1c" stroke-width="1.1" stroke-linecap="butt"/>
<line x1="288.10" y1="220.60" x2="315.80" y2="220.60" stroke="#222" stroke-width="1.15" stroke-linecap="butt"/>
<text x="301.90" y="218.80" font-size="7.0" text-anchor="middle" fill="#1a1a1a">ns</text>
<line x1="280.40" y1="287.30" x2="297.80" y2="287.30" stroke="#1c1c1c" stroke-width="1.0" stroke-linecap="butt"/>
<line x1="289.10" y1="281.40" x2="289.10" y2="292.30" stroke="#1c1c1c" stroke-width="1.0" stroke-linecap="butt"/>
<line x1="284.50" y1="281.40" x2="293.70" y2="281.40" stroke="#1c1c1c" stroke-width="1.0" stroke-linecap="butt"/>
<line x1="284.50" y1="292.30" x2="293.70" y2="292.30" stroke="#1c1c1c" stroke-width="1.0" stroke-linecap="butt"/>
<circle cx="285.80" cy="266.70" r="1.7" fill="#cc0a30" stroke="#0a0a0a" stroke-width="0.95"/>
<circle cx="291.40" cy="264.80" r="1.7" fill="#cc0a30" stroke="#0a0a0a" stroke-width="0.95"/>
<circle cx="291.10" cy="276.00" r="1.7" fill="#cc0a30" stroke="#0a0a0a" stroke-width="0.95"/>
<circle cx="280.80" cy="283.10" r="1.7" fill="#cc0a30" stroke="#0a0a0a" stroke-width="0.95"/>
<circle cx="285.80" cy="282.70" r="1.7" fill="#cc0a30" stroke="#0a0a0a" stroke-width="0.95"/>
<circle cx="296.50" cy="282.20" r="1.7" fill="#cc0a30" stroke="#0a0a0a" stroke-width="0.95"/>
<circle cx="291.10" cy="285.30" r="1.7" fill="#cc0a30" stroke="#0a0a0a" stroke-width="0.95"/>
<circle cx="285.80" cy="301.60" r="1.7" fill="#cc0a30" stroke="#0a0a0a" stroke-width="0.95"/>
<circle cx="285.80" cy="307.50" r="1.7" fill="#cc0a30" stroke="#0a0a0a" stroke-width="0.95"/>
<circle cx="285.80" cy="321.50" r="1.7" fill="#cc0a30" stroke="#0a0a0a" stroke-width="0.95"/>
<line x1="308.00" y1="279.40" x2="325.40" y2="279.40" stroke="#1c1c1c" stroke-width="1.0" stroke-linecap="butt"/>
<line x1="316.70" y1="272.40" x2="316.70" y2="287.30" stroke="#1c1c1c" stroke-width="1.0" stroke-linecap="butt"/>
<line x1="312.10" y1="272.40" x2="321.30" y2="272.40" stroke="#1c1c1c" stroke-width="1.0" stroke-linecap="butt"/>
<line x1="312.10" y1="287.30" x2="321.30" y2="287.30" stroke="#1c1c1c" stroke-width="1.0" stroke-linecap="butt"/>
<circle cx="316.70" cy="240.60" r="1.7" fill="#2f5ba6" stroke="#0a0a0a" stroke-width="0.95"/>
<circle cx="316.70" cy="247.10" r="1.7" fill="#2f5ba6" stroke="#0a0a0a" stroke-width="0.95"/>
<circle cx="316.70" cy="267.50" r="1.7" fill="#2f5ba6" stroke="#0a0a0a" stroke-width="0.95"/>
<circle cx="316.70" cy="274.10" r="1.7" fill="#2f5ba6" stroke="#0a0a0a" stroke-width="0.95"/>
<circle cx="324.80" cy="280.90" r="1.7" fill="#2f5ba6" stroke="#0a0a0a" stroke-width="0.95"/>
<circle cx="316.70" cy="283.40" r="1.7" fill="#2f5ba6" stroke="#0a0a0a" stroke-width="0.95"/>
<circle cx="324.80" cy="293.20" r="1.7" fill="#2f5ba6" stroke="#0a0a0a" stroke-width="0.95"/>
<circle cx="316.70" cy="294.90" r="1.7" fill="#2f5ba6" stroke="#0a0a0a" stroke-width="0.95"/>
<circle cx="316.70" cy="304.10" r="1.7" fill="#2f5ba6" stroke="#0a0a0a" stroke-width="0.95"/>
<circle cx="316.70" cy="310.90" r="1.7" fill="#2f5ba6" stroke="#0a0a0a" stroke-width="0.95"/>
<text x="249.00" y="273.50" font-size="10.2" text-anchor="middle" fill="#2a2a2a" textLength="99.80" lengthAdjust="spacingAndGlyphs" transform="rotate(-90 249.00 273.50)"><tspan dy="0">CD19</tspan><tspan font-size="80%" dy="-2.0">+</tspan><tspan dy="2.0">CD20</tspan><tspan font-size="80%" dy="-2.0">+</tspan><tspan dy="2.0">Bcells%CD45</tspan><tspan font-size="80%" dy="-2.0">+</tspan></text>
<text x="291.40" y="343.20" font-size="8.8" text-anchor="end" fill="#2a2a2a" textLength="43.50" lengthAdjust="spacingAndGlyphs" transform="rotate(-45 291.40 343.20)">Pre-therapy</text>
<text x="320.20" y="342.60" font-size="8.8" text-anchor="end" fill="#2a2a2a" textLength="64.30" lengthAdjust="spacingAndGlyphs" transform="rotate(-45 320.20 342.60)">1 week after SOT</text>
<line x1="379.60" y1="215.90" x2="379.60" y2="331.12" stroke="#1c1c1c" stroke-width="1.45" stroke-linecap="butt"/>
<line x1="378.88" y1="330.40" x2="445.50" y2="330.40" stroke="#1c1c1c" stroke-width="1.45" stroke-linecap="butt"/>
<line x1="376.60" y1="330.40" x2="379.60" y2="330.40" stroke="#1c1c1c" stroke-width="1.1" stroke-linecap="butt"/>
<text x="374.00" y="333.55" font-size="9.3" text-anchor="end" fill="#2a2a2a" textLength="4.60" lengthAdjust="spacingAndGlyphs">0</text>
<line x1="376.60" y1="308.18" x2="379.60" y2="308.18" stroke="#1c1c1c" stroke-width="1.1" stroke-linecap="butt"/>
<text x="374.00" y="311.33" font-size="9.3" text-anchor="end" fill="#2a2a2a" textLength="4.60" lengthAdjust="spacingAndGlyphs">1</text>
<line x1="376.60" y1="285.96" x2="379.60" y2="285.96" stroke="#1c1c1c" stroke-width="1.1" stroke-linecap="butt"/>
<text x="374.00" y="289.11" font-size="9.3" text-anchor="end" fill="#2a2a2a" textLength="4.60" lengthAdjust="spacingAndGlyphs">2</text>
<line x1="376.60" y1="263.74" x2="379.60" y2="263.74" stroke="#1c1c1c" stroke-width="1.1" stroke-linecap="butt"/>
<text x="374.00" y="266.89" font-size="9.3" text-anchor="end" fill="#2a2a2a" textLength="4.60" lengthAdjust="spacingAndGlyphs">3</text>
<line x1="376.60" y1="241.52" x2="379.60" y2="241.52" stroke="#1c1c1c" stroke-width="1.1" stroke-linecap="butt"/>
<text x="374.00" y="244.67" font-size="9.3" text-anchor="end" fill="#2a2a2a" textLength="4.60" lengthAdjust="spacingAndGlyphs">4</text>
<line x1="376.60" y1="219.30" x2="379.60" y2="219.30" stroke="#1c1c1c" stroke-width="1.1" stroke-linecap="butt"/>
<text x="374.00" y="222.45" font-size="9.3" text-anchor="end" fill="#2a2a2a" textLength="4.60" lengthAdjust="spacingAndGlyphs">5</text>
<line x1="398.30" y1="330.40" x2="398.30" y2="333.40" stroke="#1c1c1c" stroke-width="1.1" stroke-linecap="butt"/>
<line x1="426.30" y1="330.40" x2="426.30" y2="333.40" stroke="#1c1c1c" stroke-width="1.1" stroke-linecap="butt"/>
<line x1="398.10" y1="221.30" x2="425.80" y2="221.30" stroke="#222" stroke-width="1.15" stroke-linecap="butt"/>
<text x="411.90" y="219.00" font-size="7.0" text-anchor="middle" fill="#1a1a1a">ns</text>
<line x1="389.00" y1="298.10" x2="407.40" y2="298.10" stroke="#1c1c1c" stroke-width="1.0" stroke-linecap="butt"/>
<line x1="398.20" y1="288.80" x2="398.20" y2="307.10" stroke="#1c1c1c" stroke-width="1.0" stroke-linecap="butt"/>
<line x1="393.60" y1="288.80" x2="402.80" y2="288.80" stroke="#1c1c1c" stroke-width="1.0" stroke-linecap="butt"/>
<line x1="393.60" y1="307.10" x2="402.80" y2="307.10" stroke="#1c1c1c" stroke-width="1.0" stroke-linecap="butt"/>
<circle cx="398.10" cy="264.40" r="1.7" fill="#cc0a30" stroke="#0a0a0a" stroke-width="0.95"/>
<circle cx="398.10" cy="275.90" r="1.7" fill="#cc0a30" stroke="#0a0a0a" stroke-width="0.95"/>
<circle cx="398.10" cy="288.80" r="1.7" fill="#cc0a30" stroke="#0a0a0a" stroke-width="0.95"/>
<circle cx="398.10" cy="299.00" r="1.7" fill="#cc0a30" stroke="#0a0a0a" stroke-width="0.95"/>
<circle cx="398.10" cy="307.80" r="1.7" fill="#cc0a30" stroke="#0a0a0a" stroke-width="0.95"/>
<circle cx="390.80" cy="325.00" r="1.7" fill="#cc0a30" stroke="#0a0a0a" stroke-width="0.95"/>
<circle cx="406.30" cy="324.50" r="1.7" fill="#cc0a30" stroke="#0a0a0a" stroke-width="0.95"/>
<line x1="417.10" y1="294.60" x2="435.50" y2="294.60" stroke="#1c1c1c" stroke-width="1.0" stroke-linecap="butt"/>
<line x1="426.30" y1="282.40" x2="426.30" y2="306.60" stroke="#1c1c1c" stroke-width="1.0" stroke-linecap="butt"/>
<line x1="421.70" y1="282.40" x2="430.90" y2="282.40" stroke="#1c1c1c" stroke-width="1.0" stroke-linecap="butt"/>
<line x1="421.70" y1="306.60" x2="430.90" y2="306.60" stroke="#1c1c1c" stroke-width="1.0" stroke-linecap="butt"/>
<circle cx="426.30" cy="237.80" r="1.7" fill="#2f5ba6" stroke="#0a0a0a" stroke-width="0.95"/>
<circle cx="433.90" cy="238.00" r="1.7" fill="#2f5ba6" stroke="#0a0a0a" stroke-width="0.95"/>
<circle cx="418.90" cy="263.90" r="1.7" fill="#2f5ba6" stroke="#0a0a0a" stroke-width="0.95"/>
<circle cx="426.30" cy="265.70" r="1.7" fill="#2f5ba6" stroke="#0a0a0a" stroke-width="0.95"/>
<circle cx="426.30" cy="305.90" r="1.7" fill="#2f5ba6" stroke="#0a0a0a" stroke-width="0.95"/>
<circle cx="426.30" cy="319.80" r="1.7" fill="#2f5ba6" stroke="#0a0a0a" stroke-width="0.95"/>
<circle cx="426.50" cy="327.00" r="1.7" fill="#2f5ba6" stroke="#0a0a0a" stroke-width="0.95"/>
<circle cx="434.00" cy="325.00" r="1.7" fill="#2f5ba6" stroke="#0a0a0a" stroke-width="0.95"/>
<circle cx="418.80" cy="330.50" r="1.7" fill="#2f5ba6" stroke="#0a0a0a" stroke-width="0.95"/>
<circle cx="434.00" cy="329.50" r="1.7" fill="#2f5ba6" stroke="#0a0a0a" stroke-width="0.95"/>
<text x="364.70" y="272.90" font-size="10.2" text-anchor="middle" fill="#2a2a2a" textLength="91.20" lengthAdjust="spacingAndGlyphs" transform="rotate(-90 364.70 272.90)"><tspan dy="0">Plasmacells%CD19</tspan><tspan font-size="80%" dy="-2.0">+</tspan><tspan dy="2.0">Bcells</tspan></text>
<text x="398.00" y="342.00" font-size="8.8" text-anchor="end" fill="#2a2a2a" textLength="43.50" lengthAdjust="spacingAndGlyphs" transform="rotate(-45 398.00 342.00)">Pre-therapy</text>
<text x="427.10" y="342.10" font-size="8.8" text-anchor="end" fill="#2a2a2a" textLength="64.30" lengthAdjust="spacingAndGlyphs" transform="rotate(-45 427.10 342.10)">1 week after SOT</text>
<text x="8.00" y="416.90" font-size="12" text-anchor="start" fill="#000" font-weight="bold" textLength="7.90" lengthAdjust="spacingAndGlyphs">B</text>
<line x1="45.10" y1="424.60" x2="45.10" y2="543.12" stroke="#1c1c1c" stroke-width="1.45" stroke-linecap="butt"/>
<line x1="44.38" y1="542.40" x2="147.60" y2="542.40" stroke="#1c1c1c" stroke-width="1.45" stroke-linecap="butt"/>
<line x1="42.10" y1="542.40" x2="45.10" y2="542.40" stroke="#1c1c1c" stroke-width="1.1" stroke-linecap="butt"/>
<text x="39.00" y="545.55" font-size="9.3" text-anchor="end" fill="#2a2a2a" textLength="4.60" lengthAdjust="spacingAndGlyphs">0</text>
<line x1="42.10" y1="519.30" x2="45.10" y2="519.30" stroke="#1c1c1c" stroke-width="1.1" stroke-linecap="butt"/>
<text x="39.00" y="522.45" font-size="9.3" text-anchor="end" fill="#2a2a2a" textLength="9.00" lengthAdjust="spacingAndGlyphs">20</text>
<line x1="42.10" y1="496.20" x2="45.10" y2="496.20" stroke="#1c1c1c" stroke-width="1.1" stroke-linecap="butt"/>
<text x="39.00" y="499.35" font-size="9.3" text-anchor="end" fill="#2a2a2a" textLength="9.00" lengthAdjust="spacingAndGlyphs">40</text>
<line x1="42.10" y1="473.10" x2="45.10" y2="473.10" stroke="#1c1c1c" stroke-width="1.1" stroke-linecap="butt"/>
<text x="39.00" y="476.25" font-size="9.3" text-anchor="end" fill="#2a2a2a" textLength="9.00" lengthAdjust="spacingAndGlyphs">60</text>
<line x1="42.10" y1="450.00" x2="45.10" y2="450.00" stroke="#1c1c1c" stroke-width="1.1" stroke-linecap="butt"/>
<text x="39.00" y="453.15" font-size="9.3" text-anchor="end" fill="#2a2a2a" textLength="9.00" lengthAdjust="spacingAndGlyphs">80</text>
<line x1="42.10" y1="426.90" x2="45.10" y2="426.90" stroke="#1c1c1c" stroke-width="1.1" stroke-linecap="butt"/>
<text x="39.00" y="430.05" font-size="9.3" text-anchor="end" fill="#2a2a2a" textLength="13.30" lengthAdjust="spacingAndGlyphs">100</text>
<line x1="60.40" y1="542.40" x2="60.40" y2="545.40" stroke="#1c1c1c" stroke-width="1.1" stroke-linecap="butt"/>
<line x1="96.20" y1="542.40" x2="96.20" y2="545.40" stroke="#1c1c1c" stroke-width="1.1" stroke-linecap="butt"/>
<line x1="131.90" y1="542.40" x2="131.90" y2="545.40" stroke="#1c1c1c" stroke-width="1.1" stroke-linecap="butt"/>
<line x1="53.50" y1="478.60" x2="53.50" y2="514.20" stroke="#3a3a3a" stroke-width="0.9" stroke-linecap="butt"/>
<line x1="51.00" y1="478.60" x2="56.00" y2="478.60" stroke="#3a3a3a" stroke-width="0.9" stroke-linecap="butt"/>
<line x1="51.00" y1="514.20" x2="56.00" y2="514.20" stroke="#3a3a3a" stroke-width="0.9" stroke-linecap="butt"/>
<line x1="48.60" y1="496.40" x2="58.40" y2="496.40" stroke="#1c1c1c" stroke-width="1.0" stroke-linecap="butt"/>
<circle cx="53.00" cy="473.30" r="1.7" fill="#cc0a30" stroke="#0a0a0a" stroke-width="0.95"/>
<circle cx="55.10" cy="481.00" r="1.7" fill="#cc0a30" stroke="#0a0a0a" stroke-width="0.95"/>
<circle cx="51.00" cy="492.90" r="1.7" fill="#cc0a30" stroke="#0a0a0a" stroke-width="0.95"/>
<circle cx="53.30" cy="491.60" r="1.7" fill="#cc0a30" stroke="#0a0a0a" stroke-width="0.95"/>
<circle cx="56.90" cy="491.10" r="1.7" fill="#cc0a30" stroke="#0a0a0a" stroke-width="0.95"/>
<circle cx="53.00" cy="505.30" r="1.7" fill="#cc0a30" stroke="#0a0a0a" stroke-width="0.95"/>
<circle cx="53.00" cy="512.90" r="1.7" fill="#cc0a30" stroke="#0a0a0a" stroke-width="0.95"/>
<circle cx="53.00" cy="531.90" r="1.7" fill="#cc0a30" stroke="#0a0a0a" stroke-width="0.95"/>
<line x1="67.50" y1="468.90" x2="67.50" y2="511.50" stroke="#3a3a3a" stroke-width="0.9" stroke-linecap="butt"/>
<line x1="65.00" y1="468.90" x2="70.00" y2="468.90" stroke="#3a3a3a" stroke-width="0.9" stroke-linecap="butt"/>
<line x1="65.00" y1="511.50" x2="70.00" y2="511.50" stroke="#3a3a3a" stroke-width="0.9" stroke-linecap="butt"/>
<line x1="62.60" y1="491.10" x2="72.40" y2="491.10" stroke="#1c1c1c" stroke-width="1.0" stroke-linecap="butt"/>
<circle cx="64.90" cy="468.90" r="1.7" fill="#2f5ba6" stroke="#0a0a0a" stroke-width="0.95"/>
<circle cx="67.50" cy="468.00" r="1.7" fill="#2f5ba6" stroke="#0a0a0a" stroke-width="0.95"/>
<circle cx="70.20" cy="467.10" r="1.7" fill="#2f5ba6" stroke="#0a0a0a" stroke-width="0.95"/>
<circle cx="67.50" cy="481.30" r="1.7" fill="#2f5ba6" stroke="#0a0a0a" stroke-width="0.95"/>
<circle cx="70.60" cy="477.80" r="1.7" fill="#2f5ba6" stroke="#0a0a0a" stroke-width="0.95"/>
<circle cx="67.50" cy="494.10" r="1.7" fill="#2f5ba6" stroke="#0a0a0a" stroke-width="0.95"/>
<circle cx="64.90" cy="505.30" r="1.7" fill="#2f5ba6" stroke="#0a0a0a" stroke-width="0.95"/>
<circle cx="70.20" cy="506.20" r="1.7" fill="#2f5ba6" stroke="#0a0a0a" stroke-width="0.95"/>
<circle cx="67.50" cy="511.20" r="1.7" fill="#2f5ba6" stroke="#0a0a0a" stroke-width="0.95"/>
<circle cx="67.50" cy="528.40" r="1.7" fill="#2f5ba6" stroke="#0a0a0a" stroke-width="0.95"/>
<line x1="89.80" y1="514.20" x2="89.80" y2="534.00" stroke="#3a3a3a" stroke-width="0.9" stroke-linecap="butt"/>
<line x1="87.30" y1="514.20" x2="92.30" y2="514.20" stroke="#3a3a3a" stroke-width="0.9" stroke-linecap="butt"/>
<line x1="87.30" y1="534.00" x2="92.30" y2="534.00" stroke="#3a3a3a" stroke-width="0.9" stroke-linecap="butt"/>
<line x1="84.90" y1="524.20" x2="94.70" y2="524.20" stroke="#1c1c1c" stroke-width="1.0" stroke-linecap="butt"/>
<circle cx="90.40" cy="501.20" r="1.7" fill="#cc0a30" stroke="#0a0a0a" stroke-width="0.95"/>
<circle cx="87.30" cy="519.20" r="1.7" fill="#cc0a30" stroke="#0a0a0a" stroke-width="0.95"/>
<circle cx="89.60" cy="520.80" r="1.7" fill="#cc0a30" stroke="#0a0a0a" stroke-width="0.95"/>
<circle cx="89.20" cy="527.40" r="1.7" fill="#cc0a30" stroke="#0a0a0a" stroke-width="0.95"/>
<circle cx="92.20" cy="531.50" r="1.7" fill="#cc0a30" stroke="#0a0a0a" stroke-width="0.95"/>
<circle cx="89.60" cy="531.50" r="1.7" fill="#cc0a30" stroke="#0a0a0a" stroke-width="0.95"/>
<circle cx="87.00" cy="534.60" r="1.7" fill="#cc0a30" stroke="#0a0a0a" stroke-width="0.95"/>
<circle cx="90.40" cy="533.10" r="1.7" fill="#cc0a30" stroke="#0a0a0a" stroke-width="0.95"/>
<line x1="103.50" y1="507.40" x2="103.50" y2="531.00" stroke="#3a3a3a" stroke-width="0.9" stroke-linecap="butt"/>
<line x1="101.00" y1="507.40" x2="106.00" y2="507.40" stroke="#3a3a3a" stroke-width="0.9" stroke-linecap="butt"/>
<line x1="101.00" y1="531.00" x2="106.00" y2="531.00" stroke="#3a3a3a" stroke-width="0.9" stroke-linecap="butt"/>
<line x1="98.60" y1="519.50" x2="108.40" y2="519.50" stroke="#1c1c1c" stroke-width="1.0" stroke-linecap="butt"/>
<circle cx="103.50" cy="500.00" r="1.7" fill="#2f5ba6" stroke="#0a0a0a" stroke-width="0.95"/>
<circle cx="106.20" cy="497.40" r="1.7" fill="#2f5ba6" stroke="#0a0a0a" stroke-width="0.95"/>
<circle cx="100.40" cy="517.70" r="1.7" fill="#2f5ba6" stroke="#0a0a0a" stroke-width="0.95"/>
<circle cx="103.50" cy="518.50" r="1.7" fill="#2f5ba6" stroke="#0a0a0a" stroke-width="0.95"/>
<circle cx="106.20" cy="518.50" r="1.7" fill="#2f5ba6" stroke="#0a0a0a" stroke-width="0.95"/>
<circle cx="104.20" cy="520.80" r="1.7" fill="#2f5ba6" stroke="#0a0a0a" stroke-width="0.95"/>
<circle cx="99.90" cy="526.90" r="1.7" fill="#2f5ba6" stroke="#0a0a0a" stroke-width="0.95"/>
<circle cx="103.50" cy="528.50" r="1.7" fill="#2f5ba6" stroke="#0a0a0a" stroke-width="0.95"/>
<circle cx="106.20" cy="530.30" r="1.7" fill="#2f5ba6" stroke="#0a0a0a" stroke-width="0.95"/>
<circle cx="100.40" cy="532.60" r="1.7" fill="#2f5ba6" stroke="#0a0a0a" stroke-width="0.95"/>
<line x1="125.50" y1="510.00" x2="125.50" y2="528.00" stroke="#3a3a3a" stroke-width="0.9" stroke-linecap="butt"/>
<line x1="123.00" y1="510.00" x2="128.00" y2="510.00" stroke="#3a3a3a" stroke-width="0.9" stroke-linecap="butt"/>
<line x1="123.00" y1="528.00" x2="128.00" y2="528.00" stroke="#3a3a3a" stroke-width="0.9" stroke-linecap="butt"/>
<line x1="120.60" y1="519.20" x2="130.40" y2="519.20" stroke="#1c1c1c" stroke-width="1.0" stroke-linecap="butt"/>
<circle cx="125.50" cy="506.20" r="1.7" fill="#cc0a30" stroke="#0a0a0a" stroke-width="0.95"/>
<circle cx="122.70" cy="513.10" r="1.7" fill="#cc0a30" stroke="#0a0a0a" stroke-width="0.95"/>
<circle cx="125.00" cy="512.30" r="1.7" fill="#cc0a30" stroke="#0a0a0a" stroke-width="0.95"/>
<circle cx="122.70" cy="518.50" r="1.7" fill="#cc0a30" stroke="#0a0a0a" stroke-width="0.95"/>
<circle cx="125.50" cy="518.50" r="1.7" fill="#cc0a30" stroke="#0a0a0a" stroke-width="0.95"/>
<circle cx="128.80" cy="519.20" r="1.7" fill="#cc0a30" stroke="#0a0a0a" stroke-width="0.95"/>
<circle cx="125.00" cy="526.90" r="1.7" fill="#cc0a30" stroke="#0a0a0a" stroke-width="0.95"/>
<circle cx="128.50" cy="526.50" r="1.7" fill="#cc0a30" stroke="#0a0a0a" stroke-width="0.95"/>
<circle cx="125.00" cy="531.50" r="1.7" fill="#cc0a30" stroke="#0a0a0a" stroke-width="0.95"/>
<line x1="139.60" y1="514.30" x2="139.60" y2="531.00" stroke="#3a3a3a" stroke-width="0.9" stroke-linecap="butt"/>
<line x1="137.10" y1="514.30" x2="142.10" y2="514.30" stroke="#3a3a3a" stroke-width="0.9" stroke-linecap="butt"/>
<line x1="137.10" y1="531.00" x2="142.10" y2="531.00" stroke="#3a3a3a" stroke-width="0.9" stroke-linecap="butt"/>
<line x1="134.70" y1="523.00" x2="144.50" y2="523.00" stroke="#1c1c1c" stroke-width="1.0" stroke-linecap="butt"/>
<circle cx="140.40" cy="503.50" r="1.7" fill="#2f5ba6" stroke="#0a0a0a" stroke-width="0.95"/>
<circle cx="137.30" cy="512.30" r="1.7" fill="#2f5ba6" stroke="#0a0a0a" stroke-width="0.95"/>
<circle cx="136.20" cy="521.50" r="1.7" fill="#2f5ba6" stroke="#0a0a0a" stroke-width="0.95"/>
<circle cx="139.60" cy="522.30" r="1.7" fill="#2f5ba6" stroke="#0a0a0a" stroke-width="0.95"/>
<circle cx="141.90" cy="523.80" r="1.7" fill="#2f5ba6" stroke="#0a0a0a" stroke-width="0.95"/>
<circle cx="136.20" cy="526.20" r="1.7" fill="#2f5ba6" stroke="#0a0a0a" stroke-width="0.95"/>
<circle cx="139.60" cy="526.90" r="1.7" fill="#2f5ba6" stroke="#0a0a0a" stroke-width="0.95"/>
<circle cx="142.70" cy="527.70" r="1.7" fill="#2f5ba6" stroke="#0a0a0a" stroke-width="0.95"/>
<circle cx="136.20" cy="530.30" r="1.7" fill="#2f5ba6" stroke="#0a0a0a" stroke-width="0.95"/>
<circle cx="139.60" cy="530.80" r="1.7" fill="#2f5ba6" stroke="#0a0a0a" stroke-width="0.95"/>
<circle cx="141.50" cy="530.30" r="1.7" fill="#2f5ba6" stroke="#0a0a0a" stroke-width="0.95"/>
<text x="60.40" y="556.00" font-size="8.8" text-anchor="middle" fill="#2a2a2a">Naive</text>
<text x="96.20" y="556.00" font-size="8.8" text-anchor="middle" fill="#2a2a2a">TCM</text>
<text x="131.90" y="556.00" font-size="8.8" text-anchor="middle" fill="#2a2a2a">TEM</text>
<text x="20.20" y="484.20" font-size="10.2" text-anchor="middle" fill="#2a2a2a" textLength="76.00" lengthAdjust="spacingAndGlyphs" transform="rotate(-90 20.20 484.20)"><tspan dy="0">% of cells out of CD3</tspan><tspan font-size="80%" dy="-2.0">+</tspan></text>
<line x1="201.40" y1="424.60" x2="201.40" y2="543.12" stroke="#1c1c1c" stroke-width="1.45" stroke-linecap="butt"/>
<line x1="200.68" y1="542.40" x2="305.30" y2="542.40" stroke="#1c1c1c" stroke-width="1.45" stroke-linecap="butt"/>
<line x1="198.40" y1="542.40" x2="201.40" y2="542.40" stroke="#1c1c1c" stroke-width="1.1" stroke-linecap="butt"/>
<text x="195.30" y="545.55" font-size="9.3" text-anchor="end" fill="#2a2a2a" textLength="4.60" lengthAdjust="spacingAndGlyphs">0</text>
<line x1="198.40" y1="519.30" x2="201.40" y2="519.30" stroke="#1c1c1c" stroke-width="1.1" stroke-linecap="butt"/>
<text x="195.30" y="522.45" font-size="9.3" text-anchor="end" fill="#2a2a2a" textLength="9.00" lengthAdjust="spacingAndGlyphs">20</text>
<line x1="198.40" y1="496.20" x2="201.40" y2="496.20" stroke="#1c1c1c" stroke-width="1.1" stroke-linecap="butt"/>
<text x="195.30" y="499.35" font-size="9.3" text-anchor="end" fill="#2a2a2a" textLength="9.00" lengthAdjust="spacingAndGlyphs">40</text>
<line x1="198.40" y1="473.10" x2="201.40" y2="473.10" stroke="#1c1c1c" stroke-width="1.1" stroke-linecap="butt"/>
<text x="195.30" y="476.25" font-size="9.3" text-anchor="end" fill="#2a2a2a" textLength="9.00" lengthAdjust="spacingAndGlyphs">60</text>
<line x1="198.40" y1="450.00" x2="201.40" y2="450.00" stroke="#1c1c1c" stroke-width="1.1" stroke-linecap="butt"/>
<text x="195.30" y="453.15" font-size="9.3" text-anchor="end" fill="#2a2a2a" textLength="9.00" lengthAdjust="spacingAndGlyphs">80</text>
<line x1="198.40" y1="426.90" x2="201.40" y2="426.90" stroke="#1c1c1c" stroke-width="1.1" stroke-linecap="butt"/>
<text x="195.30" y="430.05" font-size="9.3" text-anchor="end" fill="#2a2a2a" textLength="13.30" lengthAdjust="spacingAndGlyphs">100</text>
<line x1="217.60" y1="542.40" x2="217.60" y2="545.40" stroke="#1c1c1c" stroke-width="1.1" stroke-linecap="butt"/>
<line x1="253.20" y1="542.40" x2="253.20" y2="545.40" stroke="#1c1c1c" stroke-width="1.1" stroke-linecap="butt"/>
<line x1="289.50" y1="542.40" x2="289.50" y2="545.40" stroke="#1c1c1c" stroke-width="1.1" stroke-linecap="butt"/>
<line x1="210.70" y1="484.50" x2="210.70" y2="529.80" stroke="#3a3a3a" stroke-width="0.9" stroke-linecap="butt"/>
<line x1="208.20" y1="484.50" x2="213.20" y2="484.50" stroke="#3a3a3a" stroke-width="0.9" stroke-linecap="butt"/>
<line x1="208.20" y1="529.80" x2="213.20" y2="529.80" stroke="#3a3a3a" stroke-width="0.9" stroke-linecap="butt"/>
<line x1="205.80" y1="507.40" x2="215.60" y2="507.40" stroke="#1c1c1c" stroke-width="1.0" stroke-linecap="butt"/>
<circle cx="210.70" cy="470.30" r="1.7" fill="#cc0a30" stroke="#0a0a0a" stroke-width="0.95"/>
<circle cx="210.70" cy="483.00" r="1.7" fill="#cc0a30" stroke="#0a0a0a" stroke-width="0.95"/>
<circle cx="207.80" cy="500.50" r="1.7" fill="#cc0a30" stroke="#0a0a0a" stroke-width="0.95"/>
<circle cx="213.30" cy="502.10" r="1.7" fill="#cc0a30" stroke="#0a0a0a" stroke-width="0.95"/>
<circle cx="209.40" cy="506.40" r="1.7" fill="#cc0a30" stroke="#0a0a0a" stroke-width="0.95"/>
<circle cx="207.80" cy="510.30" r="1.7" fill="#cc0a30" stroke="#0a0a0a" stroke-width="0.95"/>
<circle cx="210.70" cy="525.50" r="1.7" fill="#cc0a30" stroke="#0a0a0a" stroke-width="0.95"/>
<circle cx="210.70" cy="531.80" r="1.7" fill="#cc0a30" stroke="#0a0a0a" stroke-width="0.95"/>
<circle cx="210.70" cy="538.00" r="1.7" fill="#cc0a30" stroke="#0a0a0a" stroke-width="0.95"/>
<line x1="224.40" y1="471.30" x2="224.40" y2="524.40" stroke="#3a3a3a" stroke-width="0.9" stroke-linecap="butt"/>
<line x1="221.90" y1="471.30" x2="226.90" y2="471.30" stroke="#3a3a3a" stroke-width="0.9" stroke-linecap="butt"/>
<line x1="221.90" y1="524.40" x2="226.90" y2="524.40" stroke="#3a3a3a" stroke-width="0.9" stroke-linecap="butt"/>
<line x1="219.50" y1="498.00" x2="229.30" y2="498.00" stroke="#1c1c1c" stroke-width="1.0" stroke-linecap="butt"/>
<circle cx="224.40" cy="461.10" r="1.7" fill="#2f5ba6" stroke="#0a0a0a" stroke-width="0.95"/>
<circle cx="224.40" cy="465.80" r="1.7" fill="#2f5ba6" stroke="#0a0a0a" stroke-width="0.95"/>
<circle cx="224.40" cy="481.00" r="1.7" fill="#2f5ba6" stroke="#0a0a0a" stroke-width="0.95"/>
<circle cx="224.40" cy="486.90" r="1.7" fill="#2f5ba6" stroke="#0a0a0a" stroke-width="0.95"/>
<circle cx="224.40" cy="491.20" r="1.7" fill="#2f5ba6" stroke="#0a0a0a" stroke-width="0.95"/>
<circle cx="227.30" cy="498.60" r="1.7" fill="#2f5ba6" stroke="#0a0a0a" stroke-width="0.95"/>
<circle cx="224.40" cy="502.50" r="1.7" fill="#2f5ba6" stroke="#0a0a0a" stroke-width="0.95"/>
<circle cx="224.40" cy="521.10" r="1.7" fill="#2f5ba6" stroke="#0a0a0a" stroke-width="0.95"/>
<circle cx="221.10" cy="536.70" r="1.7" fill="#2f5ba6" stroke="#0a0a0a" stroke-width="0.95"/>
<circle cx="227.30" cy="535.70" r="1.7" fill="#2f5ba6" stroke="#0a0a0a" stroke-width="0.95"/>
<line x1="246.60" y1="534.50" x2="246.60" y2="542.40" stroke="#3a3a3a" stroke-width="0.9" stroke-linecap="butt"/>
<line x1="244.10" y1="534.50" x2="249.10" y2="534.50" stroke="#3a3a3a" stroke-width="0.9" stroke-linecap="butt"/>
<line x1="244.10" y1="542.40" x2="249.10" y2="542.40" stroke="#3a3a3a" stroke-width="0.9" stroke-linecap="butt"/>
<line x1="241.70" y1="540.00" x2="251.50" y2="540.00" stroke="#1c1c1c" stroke-width="1.0" stroke-linecap="butt"/>
<circle cx="246.80" cy="526.80" r="1.7" fill="#cc0a30" stroke="#0a0a0a" stroke-width="0.95"/>
<circle cx="243.70" cy="540.60" r="1.7" fill="#cc0a30" stroke="#0a0a0a" stroke-width="0.95"/>
<circle cx="246.40" cy="541.20" r="1.7" fill="#cc0a30" stroke="#0a0a0a" stroke-width="0.95"/>
<circle cx="249.10" cy="540.80" r="1.7" fill="#cc0a30" stroke="#0a0a0a" stroke-width="0.95"/>
<circle cx="245.50" cy="542.20" r="1.7" fill="#cc0a30" stroke="#0a0a0a" stroke-width="0.95"/>
<line x1="259.90" y1="534.50" x2="259.90" y2="542.40" stroke="#3a3a3a" stroke-width="0.9" stroke-linecap="butt"/>
<line x1="257.40" y1="534.50" x2="262.40" y2="534.50" stroke="#3a3a3a" stroke-width="0.9" stroke-linecap="butt"/>
<line x1="257.40" y1="542.40" x2="262.40" y2="542.40" stroke="#3a3a3a" stroke-width="0.9" stroke-linecap="butt"/>
<line x1="255.00" y1="540.00" x2="264.80" y2="540.00" stroke="#1c1c1c" stroke-width="1.0" stroke-linecap="butt"/>
<circle cx="259.90" cy="526.20" r="1.7" fill="#2f5ba6" stroke="#0a0a0a" stroke-width="0.95"/>
<circle cx="256.50" cy="540.30" r="1.7" fill="#2f5ba6" stroke="#0a0a0a" stroke-width="0.95"/>
<circle cx="259.00" cy="539.00" r="1.7" fill="#2f5ba6" stroke="#0a0a0a" stroke-width="0.95"/>
<circle cx="261.20" cy="541.20" r="1.7" fill="#2f5ba6" stroke="#0a0a0a" stroke-width="0.95"/>
<circle cx="262.60" cy="542.20" r="1.7" fill="#2f5ba6" stroke="#0a0a0a" stroke-width="0.95"/>
<circle cx="257.90" cy="541.20" r="1.7" fill="#2f5ba6" stroke="#0a0a0a" stroke-width="0.95"/>
<line x1="282.40" y1="506.60" x2="282.40" y2="534.00" stroke="#3a3a3a" stroke-width="0.9" stroke-linecap="butt"/>
<line x1="279.90" y1="506.60" x2="284.90" y2="506.60" stroke="#3a3a3a" stroke-width="0.9" stroke-linecap="butt"/>
<line x1="279.90" y1="534.00" x2="284.90" y2="534.00" stroke="#3a3a3a" stroke-width="0.9" stroke-linecap="butt"/>
<line x1="277.50" y1="520.10" x2="287.30" y2="520.10" stroke="#1c1c1c" stroke-width="1.0" stroke-linecap="butt"/>
<circle cx="282.40" cy="493.50" r="1.7" fill="#cc0a30" stroke="#0a0a0a" stroke-width="0.95"/>
<circle cx="282.40" cy="508.30" r="1.7" fill="#cc0a30" stroke="#0a0a0a" stroke-width="0.95"/>
<circle cx="279.70" cy="515.70" r="1.7" fill="#cc0a30" stroke="#0a0a0a" stroke-width="0.95"/>
<circle cx="279.40" cy="519.70" r="1.7" fill="#cc0a30" stroke="#0a0a0a" stroke-width="0.95"/>
<circle cx="282.40" cy="518.80" r="1.7" fill="#cc0a30" stroke="#0a0a0a" stroke-width="0.95"/>
<circle cx="282.40" cy="524.40" r="1.7" fill="#cc0a30" stroke="#0a0a0a" stroke-width="0.95"/>
<circle cx="279.70" cy="535.20" r="1.7" fill="#cc0a30" stroke="#0a0a0a" stroke-width="0.95"/>
<circle cx="282.40" cy="533.80" r="1.7" fill="#cc0a30" stroke="#0a0a0a" stroke-width="0.95"/>
<circle cx="285.10" cy="533.80" r="1.7" fill="#cc0a30" stroke="#0a0a0a" stroke-width="0.95"/>
<line x1="295.80" y1="511.00" x2="295.80" y2="533.00" stroke="#3a3a3a" stroke-width="0.9" stroke-linecap="butt"/>
<line x1="293.30" y1="511.00" x2="298.30" y2="511.00" stroke="#3a3a3a" stroke-width="0.9" stroke-linecap="butt"/>
<line x1="293.30" y1="533.00" x2="298.30" y2="533.00" stroke="#3a3a3a" stroke-width="0.9" stroke-linecap="butt"/>
<line x1="290.90" y1="522.00" x2="300.70" y2="522.00" stroke="#1c1c1c" stroke-width="1.0" stroke-linecap="butt"/>
<circle cx="294.90" cy="506.00" r="1.7" fill="#2f5ba6" stroke="#0a0a0a" stroke-width="0.95"/>
<circle cx="293.10" cy="508.00" r="1.7" fill="#2f5ba6" stroke="#0a0a0a" stroke-width="0.95"/>
<circle cx="295.80" cy="512.70" r="1.7" fill="#2f5ba6" stroke="#0a0a0a" stroke-width="0.95"/>
<circle cx="293.50" cy="521.50" r="1.7" fill="#2f5ba6" stroke="#0a0a0a" stroke-width="0.95"/>
<circle cx="296.20" cy="520.40" r="1.7" fill="#2f5ba6" stroke="#0a0a0a" stroke-width="0.95"/>
<circle cx="299.30" cy="520.10" r="1.7" fill="#2f5ba6" stroke="#0a0a0a" stroke-width="0.95"/>
<circle cx="295.80" cy="527.40" r="1.7" fill="#2f5ba6" stroke="#0a0a0a" stroke-width="0.95"/>
<circle cx="295.80" cy="533.40" r="1.7" fill="#2f5ba6" stroke="#0a0a0a" stroke-width="0.95"/>
<circle cx="298.90" cy="535.60" r="1.7" fill="#2f5ba6" stroke="#0a0a0a" stroke-width="0.95"/>
<circle cx="292.90" cy="536.90" r="1.7" fill="#2f5ba6" stroke="#0a0a0a" stroke-width="0.95"/>
<text x="217.60" y="556.00" font-size="8.8" text-anchor="middle" fill="#2a2a2a">Naive</text>
<text x="253.20" y="556.00" font-size="8.8" text-anchor="middle" fill="#2a2a2a">TCM</text>
<text x="289.50" y="556.00" font-size="8.8" text-anchor="middle" fill="#2a2a2a">TEM</text>
<text x="176.30" y="484.20" font-size="10.2" text-anchor="middle" fill="#2a2a2a" textLength="76.00" lengthAdjust="spacingAndGlyphs" transform="rotate(-90 176.30 484.20)"><tspan dy="0">% of cells out of CD8</tspan><tspan font-size="80%" dy="-2.0">+</tspan></text>
<line x1="209.40" y1="453.30" x2="223.80" y2="453.30" stroke="#222" stroke-width="1.15" stroke-linecap="butt"/>
<text x="216.50" y="453.52" font-size="9.0" text-anchor="middle" fill="#1a1a1a">***</text>
<line x1="358.20" y1="424.60" x2="358.20" y2="543.12" stroke="#1c1c1c" stroke-width="1.45" stroke-linecap="butt"/>
<line x1="357.47" y1="542.40" x2="461.10" y2="542.40" stroke="#1c1c1c" stroke-width="1.45" stroke-linecap="butt"/>
<line x1="355.20" y1="542.40" x2="358.20" y2="542.40" stroke="#1c1c1c" stroke-width="1.1" stroke-linecap="butt"/>
<text x="352.10" y="545.55" font-size="9.3" text-anchor="end" fill="#2a2a2a" textLength="4.60" lengthAdjust="spacingAndGlyphs">0</text>
<line x1="355.20" y1="519.30" x2="358.20" y2="519.30" stroke="#1c1c1c" stroke-width="1.1" stroke-linecap="butt"/>
<text x="352.10" y="522.45" font-size="9.3" text-anchor="end" fill="#2a2a2a" textLength="9.00" lengthAdjust="spacingAndGlyphs">20</text>
<line x1="355.20" y1="496.20" x2="358.20" y2="496.20" stroke="#1c1c1c" stroke-width="1.1" stroke-linecap="butt"/>
<text x="352.10" y="499.35" font-size="9.3" text-anchor="end" fill="#2a2a2a" textLength="9.00" lengthAdjust="spacingAndGlyphs">40</text>
<line x1="355.20" y1="473.10" x2="358.20" y2="473.10" stroke="#1c1c1c" stroke-width="1.1" stroke-linecap="butt"/>
<text x="352.10" y="476.25" font-size="9.3" text-anchor="end" fill="#2a2a2a" textLength="9.00" lengthAdjust="spacingAndGlyphs">60</text>
<line x1="355.20" y1="450.00" x2="358.20" y2="450.00" stroke="#1c1c1c" stroke-width="1.1" stroke-linecap="butt"/>
<text x="352.10" y="453.15" font-size="9.3" text-anchor="end" fill="#2a2a2a" textLength="9.00" lengthAdjust="spacingAndGlyphs">80</text>
<line x1="355.20" y1="426.90" x2="358.20" y2="426.90" stroke="#1c1c1c" stroke-width="1.1" stroke-linecap="butt"/>
<text x="352.10" y="430.05" font-size="9.3" text-anchor="end" fill="#2a2a2a" textLength="13.30" lengthAdjust="spacingAndGlyphs">100</text>
<line x1="373.50" y1="542.40" x2="373.50" y2="545.40" stroke="#1c1c1c" stroke-width="1.1" stroke-linecap="butt"/>
<line x1="409.40" y1="542.40" x2="409.40" y2="545.40" stroke="#1c1c1c" stroke-width="1.1" stroke-linecap="butt"/>
<line x1="444.90" y1="542.40" x2="444.90" y2="545.40" stroke="#1c1c1c" stroke-width="1.1" stroke-linecap="butt"/>
<line x1="366.80" y1="466.50" x2="366.80" y2="505.30" stroke="#3a3a3a" stroke-width="0.9" stroke-linecap="butt"/>
<line x1="364.30" y1="466.50" x2="369.30" y2="466.50" stroke="#3a3a3a" stroke-width="0.9" stroke-linecap="butt"/>
<line x1="364.30" y1="505.30" x2="369.30" y2="505.30" stroke="#3a3a3a" stroke-width="0.9" stroke-linecap="butt"/>
<line x1="361.90" y1="485.80" x2="371.70" y2="485.80" stroke="#1c1c1c" stroke-width="1.0" stroke-linecap="butt"/>
<circle cx="364.40" cy="460.50" r="1.7" fill="#cc0a30" stroke="#0a0a0a" stroke-width="0.95"/>
<circle cx="369.80" cy="463.20" r="1.7" fill="#cc0a30" stroke="#0a0a0a" stroke-width="0.95"/>
<circle cx="366.80" cy="475.30" r="1.7" fill="#cc0a30" stroke="#0a0a0a" stroke-width="0.95"/>
<circle cx="363.90" cy="481.70" r="1.7" fill="#cc0a30" stroke="#0a0a0a" stroke-width="0.95"/>
<circle cx="369.80" cy="482.40" r="1.7" fill="#cc0a30" stroke="#0a0a0a" stroke-width="0.95"/>
<circle cx="364.40" cy="489.60" r="1.7" fill="#cc0a30" stroke="#0a0a0a" stroke-width="0.95"/>
<circle cx="366.80" cy="488.40" r="1.7" fill="#cc0a30" stroke="#0a0a0a" stroke-width="0.95"/>
<circle cx="366.80" cy="512.10" r="1.7" fill="#cc0a30" stroke="#0a0a0a" stroke-width="0.95"/>
<circle cx="366.80" cy="518.30" r="1.7" fill="#cc0a30" stroke="#0a0a0a" stroke-width="0.95"/>
<line x1="380.30" y1="453.00" x2="380.30" y2="507.00" stroke="#3a3a3a" stroke-width="0.9" stroke-linecap="butt"/>
<line x1="377.80" y1="453.00" x2="382.80" y2="453.00" stroke="#3a3a3a" stroke-width="0.9" stroke-linecap="butt"/>
<line x1="377.80" y1="507.00" x2="382.80" y2="507.00" stroke="#3a3a3a" stroke-width="0.9" stroke-linecap="butt"/>
<line x1="375.40" y1="484.60" x2="385.20" y2="484.60" stroke="#1c1c1c" stroke-width="1.0" stroke-linecap="butt"/>
<circle cx="380.30" cy="452.50" r="1.7" fill="#2f5ba6" stroke="#0a0a0a" stroke-width="0.95"/>
<circle cx="380.30" cy="461.00" r="1.7" fill="#2f5ba6" stroke="#0a0a0a" stroke-width="0.95"/>
<circle cx="380.30" cy="466.40" r="1.7" fill="#2f5ba6" stroke="#0a0a0a" stroke-width="0.95"/>
<circle cx="380.30" cy="475.60" r="1.7" fill="#2f5ba6" stroke="#0a0a0a" stroke-width="0.95"/>
<circle cx="380.30" cy="483.20" r="1.7" fill="#2f5ba6" stroke="#0a0a0a" stroke-width="0.95"/>
<circle cx="383.60" cy="482.90" r="1.7" fill="#2f5ba6" stroke="#0a0a0a" stroke-width="0.95"/>
<circle cx="380.30" cy="488.80" r="1.7" fill="#2f5ba6" stroke="#0a0a0a" stroke-width="0.95"/>
<circle cx="377.90" cy="507.70" r="1.7" fill="#2f5ba6" stroke="#0a0a0a" stroke-width="0.95"/>
<circle cx="383.30" cy="506.00" r="1.7" fill="#2f5ba6" stroke="#0a0a0a" stroke-width="0.95"/>
<circle cx="380.30" cy="523.00" r="1.7" fill="#2f5ba6" stroke="#0a0a0a" stroke-width="0.95"/>
<line x1="402.70" y1="500.10" x2="402.70" y2="526.00" stroke="#3a3a3a" stroke-width="0.9" stroke-linecap="butt"/>
<line x1="400.20" y1="500.10" x2="405.20" y2="500.10" stroke="#3a3a3a" stroke-width="0.9" stroke-linecap="butt"/>
<line x1="400.20" y1="526.00" x2="405.20" y2="526.00" stroke="#3a3a3a" stroke-width="0.9" stroke-linecap="butt"/>
<line x1="397.80" y1="513.20" x2="407.60" y2="513.20" stroke="#1c1c1c" stroke-width="1.0" stroke-linecap="butt"/>
<circle cx="402.70" cy="484.90" r="1.7" fill="#cc0a30" stroke="#0a0a0a" stroke-width="0.95"/>
<circle cx="402.70" cy="503.10" r="1.7" fill="#cc0a30" stroke="#0a0a0a" stroke-width="0.95"/>
<circle cx="400.20" cy="507.70" r="1.7" fill="#cc0a30" stroke="#0a0a0a" stroke-width="0.95"/>
<circle cx="402.70" cy="511.60" r="1.7" fill="#cc0a30" stroke="#0a0a0a" stroke-width="0.95"/>
<circle cx="406.10" cy="517.50" r="1.7" fill="#cc0a30" stroke="#0a0a0a" stroke-width="0.95"/>
<circle cx="400.20" cy="521.20" r="1.7" fill="#cc0a30" stroke="#0a0a0a" stroke-width="0.95"/>
<circle cx="402.70" cy="522.80" r="1.7" fill="#cc0a30" stroke="#0a0a0a" stroke-width="0.95"/>
<circle cx="406.10" cy="523.90" r="1.7" fill="#cc0a30" stroke="#0a0a0a" stroke-width="0.95"/>
<circle cx="400.20" cy="527.20" r="1.7" fill="#cc0a30" stroke="#0a0a0a" stroke-width="0.95"/>
<circle cx="403.90" cy="524.50" r="1.7" fill="#cc0a30" stroke="#0a0a0a" stroke-width="0.95"/>
<line x1="416.20" y1="492.20" x2="416.20" y2="523.00" stroke="#3a3a3a" stroke-width="0.9" stroke-linecap="butt"/>
<line x1="413.70" y1="492.20" x2="418.70" y2="492.20" stroke="#3a3a3a" stroke-width="0.9" stroke-linecap="butt"/>
<line x1="413.70" y1="523.00" x2="418.70" y2="523.00" stroke="#3a3a3a" stroke-width="0.9" stroke-linecap="butt"/>
<line x1="411.30" y1="507.80" x2="421.10" y2="507.80" stroke="#1c1c1c" stroke-width="1.0" stroke-linecap="butt"/>
<circle cx="413.60" cy="484.10" r="1.7" fill="#2f5ba6" stroke="#0a0a0a" stroke-width="0.95"/>
<circle cx="419.00" cy="481.70" r="1.7" fill="#2f5ba6" stroke="#0a0a0a" stroke-width="0.95"/>
<circle cx="413.60" cy="502.60" r="1.7" fill="#2f5ba6" stroke="#0a0a0a" stroke-width="0.95"/>
<circle cx="416.70" cy="504.80" r="1.7" fill="#2f5ba6" stroke="#0a0a0a" stroke-width="0.95"/>
<circle cx="413.60" cy="507.70" r="1.7" fill="#2f5ba6" stroke="#0a0a0a" stroke-width="0.95"/>
<circle cx="416.70" cy="509.40" r="1.7" fill="#2f5ba6" stroke="#0a0a0a" stroke-width="0.95"/>
<circle cx="416.20" cy="514.90" r="1.7" fill="#2f5ba6" stroke="#0a0a0a" stroke-width="0.95"/>
<circle cx="416.20" cy="521.70" r="1.7" fill="#2f5ba6" stroke="#0a0a0a" stroke-width="0.95"/>
<circle cx="418.70" cy="521.20" r="1.7" fill="#2f5ba6" stroke="#0a0a0a" stroke-width="0.95"/>
<circle cx="416.20" cy="524.20" r="1.7" fill="#2f5ba6" stroke="#0a0a0a" stroke-width="0.95"/>
<circle cx="416.20" cy="528.40" r="1.7" fill="#2f5ba6" stroke="#0a0a0a" stroke-width="0.95"/>
<line x1="438.70" y1="504.60" x2="438.70" y2="530.00" stroke="#3a3a3a" stroke-width="0.9" stroke-linecap="butt"/>
<line x1="436.20" y1="504.60" x2="441.20" y2="504.60" stroke="#3a3a3a" stroke-width="0.9" stroke-linecap="butt"/>
<line x1="436.20" y1="530.00" x2="441.20" y2="530.00" stroke="#3a3a3a" stroke-width="0.9" stroke-linecap="butt"/>
<line x1="433.80" y1="518.30" x2="443.60" y2="518.30" stroke="#1c1c1c" stroke-width="1.0" stroke-linecap="butt"/>
<circle cx="438.70" cy="486.50" r="1.7" fill="#cc0a30" stroke="#0a0a0a" stroke-width="0.95"/>
<circle cx="438.70" cy="510.50" r="1.7" fill="#cc0a30" stroke="#0a0a0a" stroke-width="0.95"/>
<circle cx="438.70" cy="515.10" r="1.7" fill="#cc0a30" stroke="#0a0a0a" stroke-width="0.95"/>
<circle cx="435.90" cy="517.30" r="1.7" fill="#cc0a30" stroke="#0a0a0a" stroke-width="0.95"/>
<circle cx="435.90" cy="521.70" r="1.7" fill="#cc0a30" stroke="#0a0a0a" stroke-width="0.95"/>
<circle cx="441.80" cy="524.20" r="1.7" fill="#cc0a30" stroke="#0a0a0a" stroke-width="0.95"/>
<circle cx="438.70" cy="527.50" r="1.7" fill="#cc0a30" stroke="#0a0a0a" stroke-width="0.95"/>
<circle cx="435.90" cy="531.00" r="1.7" fill="#cc0a30" stroke="#0a0a0a" stroke-width="0.95"/>
<circle cx="441.80" cy="529.80" r="1.7" fill="#cc0a30" stroke="#0a0a0a" stroke-width="0.95"/>
<line x1="452.10" y1="512.10" x2="452.10" y2="531.00" stroke="#3a3a3a" stroke-width="0.9" stroke-linecap="butt"/>
<line x1="449.60" y1="512.10" x2="454.60" y2="512.10" stroke="#3a3a3a" stroke-width="0.9" stroke-linecap="butt"/>
<line x1="449.60" y1="531.00" x2="454.60" y2="531.00" stroke="#3a3a3a" stroke-width="0.9" stroke-linecap="butt"/>
<line x1="447.20" y1="522.90" x2="457.00" y2="522.90" stroke="#1c1c1c" stroke-width="1.0" stroke-linecap="butt"/>
<circle cx="452.10" cy="494.70" r="1.7" fill="#2f5ba6" stroke="#0a0a0a" stroke-width="0.95"/>
<circle cx="452.10" cy="516.10" r="1.7" fill="#2f5ba6" stroke="#0a0a0a" stroke-width="0.95"/>
<circle cx="449.90" cy="521.70" r="1.7" fill="#2f5ba6" stroke="#0a0a0a" stroke-width="0.95"/>
<circle cx="452.10" cy="522.90" r="1.7" fill="#2f5ba6" stroke="#0a0a0a" stroke-width="0.95"/>
<circle cx="454.60" cy="523.50" r="1.7" fill="#2f5ba6" stroke="#0a0a0a" stroke-width="0.95"/>
<circle cx="449.30" cy="526.60" r="1.7" fill="#2f5ba6" stroke="#0a0a0a" stroke-width="0.95"/>
<circle cx="451.70" cy="527.90" r="1.7" fill="#2f5ba6" stroke="#0a0a0a" stroke-width="0.95"/>
<circle cx="454.90" cy="527.00" r="1.7" fill="#2f5ba6" stroke="#0a0a0a" stroke-width="0.95"/>
<circle cx="453.40" cy="528.50" r="1.7" fill="#2f5ba6" stroke="#0a0a0a" stroke-width="0.95"/>
<circle cx="452.10" cy="532.90" r="1.7" fill="#2f5ba6" stroke="#0a0a0a" stroke-width="0.95"/>
<text x="373.50" y="556.00" font-size="8.8" text-anchor="middle" fill="#2a2a2a">Naive</text>
<text x="409.40" y="556.00" font-size="8.8" text-anchor="middle" fill="#2a2a2a">TCM</text>
<text x="444.90" y="556.00" font-size="8.8" text-anchor="middle" fill="#2a2a2a">TEM</text>
<text x="333.30" y="484.20" font-size="10.2" text-anchor="middle" fill="#2a2a2a" textLength="76.00" lengthAdjust="spacingAndGlyphs" transform="rotate(-90 333.30 484.20)"><tspan dy="0">% of cells out of CD4</tspan><tspan font-size="80%" dy="-2.0">+</tspan></text>
<circle cx="441.10" cy="424.30" r="1.45" fill="#2f5ba6" stroke="#0a0a0a" stroke-width="0.95"/>
<circle cx="441.10" cy="439.60" r="1.45" fill="#cc0a30" stroke="#0a0a0a" stroke-width="0.95"/>
<text x="446.20" y="427.30" font-size="8.3" text-anchor="start" fill="#2a2a2a">Pre-therapy</text>
<text x="446.20" y="442.60" font-size="8.3" text-anchor="start" fill="#2a2a2a">1 week after SOT</text>
<rect x="0.5" y="0.5" width="519" height="562" fill="none" stroke="#000" stroke-width="1"/>
</svg>
</body></html>
